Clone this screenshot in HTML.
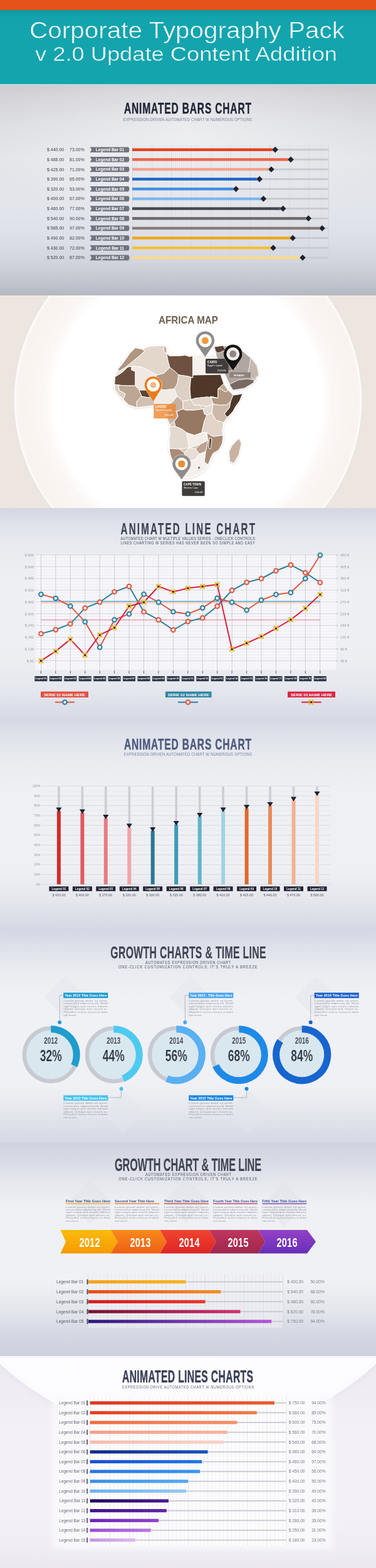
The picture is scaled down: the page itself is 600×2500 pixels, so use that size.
<!DOCTYPE html>
<html><head><meta charset="utf-8"><title>Corporate Typography Pack v 2.0</title>
<style>
html,body{margin:0;padding:0;background:#e9eaee;}
body{width:600px;height:2500px;overflow:hidden;position:relative;font-family:"Liberation Sans",Arial,sans-serif;}
.sec{position:absolute;left:0;width:600px;overflow:hidden;}
svg{position:absolute;left:0;top:0;display:block;}
svg text{font-family:"Liberation Sans",Arial,sans-serif;}
</style></head><body>

<div class="sec" style="top:0;height:134px;background:#13a4ad;">
<div style="position:absolute;left:0;top:0;width:600px;height:16px;background:#e5531a;"></div>
<div style="position:absolute;left:0;top:16px;width:600px;height:12px;background:linear-gradient(#0f98a1,#13a4ad);"></div>
<svg width="600" height="134" viewBox="0 0 600 134">
<text x="47.0" y="61.0" font-size="37" fill="#ffffff" textLength="503.0" lengthAdjust="spacingAndGlyphs" stroke="#13a4ad" stroke-width="0.6">Corporate Typography Pack</text>
<text x="56.0" y="97.0" font-size="31" fill="#ffffff" textLength="482.0" lengthAdjust="spacingAndGlyphs" stroke="#13a4ad" stroke-width="0.5">v 2.0 Update Content Addition</text>
</svg></div>
<div class="sec" style="top:134px;height:337px;background:radial-gradient(ellipse 320px 150px at 50% 25%,rgba(255,255,255,0.45),rgba(255,255,255,0) 100%),linear-gradient(180deg,#c9c9ce 0px,#d1d1d6 15px,#dcdde1 60px,#e4e6ea 120px,#e3e5ec 200px,#dcdfe7 250px,#cfd2da 290px,#bfc3cc 320px,#b4b8c2 337px);">
<div style="position:absolute;left:0;top:0;width:600px;height:3px;background:linear-gradient(#c4d6dc,#cfd3d6);"></div>
<svg width="600" height="337" viewBox="0 134 600 337">
<defs><pattern id="g2" x="211" y="0" width="3.125" height="4" patternUnits="userSpaceOnUse"><rect x="0" y="0" width="0.7" height="4" fill="#dcdde2"/></pattern></defs>
<rect x="211" y="231" width="313" height="188" fill="url(#g2)"/>
<rect x="211.0" y="231" width="0.8" height="188" fill="#d3d4da"/>
<rect x="242.3" y="231" width="0.8" height="188" fill="#d3d4da"/>
<rect x="273.6" y="231" width="0.8" height="188" fill="#d3d4da"/>
<rect x="304.9" y="231" width="0.8" height="188" fill="#d3d4da"/>
<rect x="336.2" y="231" width="0.8" height="188" fill="#d3d4da"/>
<rect x="367.5" y="231" width="0.8" height="188" fill="#d3d4da"/>
<rect x="398.8" y="231" width="0.8" height="188" fill="#d3d4da"/>
<rect x="430.1" y="231" width="0.8" height="188" fill="#d3d4da"/>
<rect x="461.4" y="231" width="0.8" height="188" fill="#d3d4da"/>
<rect x="492.7" y="231" width="0.8" height="188" fill="#d3d4da"/>
<rect x="524.0" y="231" width="0.8" height="188" fill="#d3d4da"/>
<g transform="translate(198.00,181.00) scale(0.63,1)"><text x="0" y="0" font-size="24.71" font-weight="bold" fill="#1f2536" stroke="#1f2536" stroke-width="0.45" textLength="322.2" lengthAdjust="spacing">ANIMATED BARS CHART</text></g>
<g transform="translate(196.50,192.80) scale(0.86,1)"><text x="0" y="0" font-size="6.98" fill="#7b8098" textLength="239.0" lengthAdjust="spacing">EXPRESSION DRIVEN AUTOMATED CHART W NUMEROUS OPTIONS</text></g>
<rect x="211" y="237.2" width="313" height="3" fill="#c9cad1"/>
<text x="75.0" y="241.2" font-size="7" fill="#3b3d45">$ 440.00</text>
<text x="111.0" y="241.2" font-size="7" fill="#3b3d45">73.00%</text>
<path d="M143.5 234.4 H205 Q208 238.7 205 243.0 H143.5 L146.3 238.7 Z" fill="#70747f"/>
<text x="175.5" y="241.1" font-size="6.6" fill="#ffffff" font-weight="bold" text-anchor="middle">Legend Bar 01</text>
<rect x="211" y="236.5" width="228.1" height="4.4" fill="#e0401e"/>
<rect x="435.5" y="235.1" width="7.2" height="7.2" fill="#1e2230" stroke="#ffffff" stroke-opacity="0.5" stroke-width="0.8" transform="rotate(45 439.1 238.7)"/>
<rect x="211" y="252.8" width="313" height="3" fill="#c9cad1"/>
<text x="75.0" y="256.9" font-size="7" fill="#3b3d45">$ 485.00</text>
<text x="111.0" y="256.9" font-size="7" fill="#3b3d45">81.00%</text>
<path d="M143.5 250.0 H205 Q208 254.3 205 258.6 H143.5 L146.3 254.3 Z" fill="#70747f"/>
<text x="175.5" y="256.8" font-size="6.6" fill="#ffffff" font-weight="bold" text-anchor="middle">Legend Bar 02</text>
<rect x="211" y="252.2" width="253.1" height="4.4" fill="#ee6448"/>
<rect x="460.5" y="250.8" width="7.2" height="7.2" fill="#1e2230" stroke="#ffffff" stroke-opacity="0.5" stroke-width="0.8" transform="rotate(45 464.1 254.3)"/>
<rect x="211" y="268.5" width="313" height="3" fill="#c9cad1"/>
<text x="75.0" y="272.5" font-size="7" fill="#3b3d45">$ 425.00</text>
<text x="111.0" y="272.5" font-size="7" fill="#3b3d45">71.00%</text>
<path d="M143.5 265.7 H205 Q208 270.0 205 274.3 H143.5 L146.3 270.0 Z" fill="#70747f"/>
<text x="175.5" y="272.4" font-size="6.6" fill="#ffffff" font-weight="bold" text-anchor="middle">Legend Bar 03</text>
<rect x="211" y="267.8" width="221.9" height="4.4" fill="#f4a08c"/>
<rect x="429.3" y="266.4" width="7.2" height="7.2" fill="#1e2230" stroke="#ffffff" stroke-opacity="0.5" stroke-width="0.8" transform="rotate(45 432.9 270.0)"/>
<rect x="211" y="284.1" width="313" height="3" fill="#c9cad1"/>
<text x="75.0" y="288.1" font-size="7" fill="#3b3d45">$ 390.00</text>
<text x="111.0" y="288.1" font-size="7" fill="#3b3d45">65.00%</text>
<path d="M143.5 281.3 H205 Q208 285.6 205 289.9 H143.5 L146.3 285.6 Z" fill="#70747f"/>
<text x="175.5" y="288.0" font-size="6.6" fill="#ffffff" font-weight="bold" text-anchor="middle">Legend Bar 04</text>
<rect x="211" y="283.4" width="203.1" height="4.4" fill="#1f64c6"/>
<rect x="410.5" y="282.0" width="7.2" height="7.2" fill="#1e2230" stroke="#ffffff" stroke-opacity="0.5" stroke-width="0.8" transform="rotate(45 414.1 285.6)"/>
<rect x="211" y="299.8" width="313" height="3" fill="#c9cad1"/>
<text x="75.0" y="303.8" font-size="7" fill="#3b3d45">$ 320.00</text>
<text x="111.0" y="303.8" font-size="7" fill="#3b3d45">53.00%</text>
<path d="M143.5 297.0 H205 Q208 301.3 205 305.6 H143.5 L146.3 301.3 Z" fill="#70747f"/>
<text x="175.5" y="303.7" font-size="6.6" fill="#ffffff" font-weight="bold" text-anchor="middle">Legend Bar 05</text>
<rect x="211" y="299.1" width="165.6" height="4.4" fill="#3d8fe2"/>
<rect x="373.0" y="297.7" width="7.2" height="7.2" fill="#1e2230" stroke="#ffffff" stroke-opacity="0.5" stroke-width="0.8" transform="rotate(45 376.6 301.3)"/>
<rect x="211" y="315.4" width="313" height="3" fill="#c9cad1"/>
<text x="75.0" y="319.4" font-size="7" fill="#3b3d45">$ 400.00</text>
<text x="111.0" y="319.4" font-size="7" fill="#3b3d45">67.00%</text>
<path d="M143.5 312.6 H205 Q208 316.9 205 321.2 H143.5 L146.3 316.9 Z" fill="#70747f"/>
<text x="175.5" y="319.3" font-size="6.6" fill="#ffffff" font-weight="bold" text-anchor="middle">Legend Bar 06</text>
<rect x="211" y="314.8" width="209.4" height="4.4" fill="#7cb7ec"/>
<rect x="416.8" y="313.3" width="7.2" height="7.2" fill="#1e2230" stroke="#ffffff" stroke-opacity="0.5" stroke-width="0.8" transform="rotate(45 420.4 316.9)"/>
<rect x="211" y="331.1" width="313" height="3" fill="#c9cad1"/>
<text x="75.0" y="335.1" font-size="7" fill="#3b3d45">$ 460.00</text>
<text x="111.0" y="335.1" font-size="7" fill="#3b3d45">77.00%</text>
<path d="M143.5 328.3 H205 Q208 332.6 205 336.9 H143.5 L146.3 332.6 Z" fill="#70747f"/>
<text x="175.5" y="335.0" font-size="6.6" fill="#ffffff" font-weight="bold" text-anchor="middle">Legend Bar 07</text>
<rect x="211" y="330.4" width="240.6" height="4.4" fill="#47474c"/>
<rect x="448.0" y="329.0" width="7.2" height="7.2" fill="#1e2230" stroke="#ffffff" stroke-opacity="0.5" stroke-width="0.8" transform="rotate(45 451.6 332.6)"/>
<rect x="211" y="346.8" width="313" height="3" fill="#c9cad1"/>
<text x="75.0" y="350.8" font-size="7" fill="#3b3d45">$ 540.00</text>
<text x="111.0" y="350.8" font-size="7" fill="#3b3d45">90.00%</text>
<path d="M143.5 343.9 H205 Q208 348.2 205 352.6 H143.5 L146.3 348.2 Z" fill="#70747f"/>
<text x="175.5" y="350.6" font-size="6.6" fill="#ffffff" font-weight="bold" text-anchor="middle">Legend Bar 08</text>
<rect x="211" y="346.1" width="281.2" height="4.4" fill="#6f6867"/>
<rect x="488.6" y="344.6" width="7.2" height="7.2" fill="#1e2230" stroke="#ffffff" stroke-opacity="0.5" stroke-width="0.8" transform="rotate(45 492.2 348.2)"/>
<rect x="211" y="362.4" width="313" height="3" fill="#c9cad1"/>
<text x="75.0" y="366.4" font-size="7" fill="#3b3d45">$ 585.00</text>
<text x="111.0" y="366.4" font-size="7" fill="#3b3d45">97.00%</text>
<path d="M143.5 359.6 H205 Q208 363.9 205 368.2 H143.5 L146.3 363.9 Z" fill="#70747f"/>
<text x="175.5" y="366.3" font-size="6.6" fill="#ffffff" font-weight="bold" text-anchor="middle">Legend Bar 09</text>
<rect x="211" y="361.7" width="303.1" height="4.4" fill="#877b76"/>
<rect x="510.5" y="360.3" width="7.2" height="7.2" fill="#1e2230" stroke="#ffffff" stroke-opacity="0.5" stroke-width="0.8" transform="rotate(45 514.1 363.9)"/>
<rect x="211" y="378.0" width="313" height="3" fill="#c9cad1"/>
<text x="75.0" y="382.0" font-size="7" fill="#3b3d45">$ 490.00</text>
<text x="111.0" y="382.0" font-size="7" fill="#3b3d45">82.00%</text>
<path d="M143.5 375.2 H205 Q208 379.5 205 383.8 H143.5 L146.3 379.5 Z" fill="#70747f"/>
<text x="175.5" y="381.9" font-size="6.6" fill="#ffffff" font-weight="bold" text-anchor="middle">Legend Bar 10</text>
<rect x="211" y="377.3" width="256.2" height="4.4" fill="#efa814"/>
<rect x="463.6" y="375.9" width="7.2" height="7.2" fill="#1e2230" stroke="#ffffff" stroke-opacity="0.5" stroke-width="0.8" transform="rotate(45 467.2 379.5)"/>
<rect x="211" y="393.7" width="313" height="3" fill="#c9cad1"/>
<text x="75.0" y="397.7" font-size="7" fill="#3b3d45">$ 430.00</text>
<text x="111.0" y="397.7" font-size="7" fill="#3b3d45">72.00%</text>
<path d="M143.5 390.9 H205 Q208 395.2 205 399.5 H143.5 L146.3 395.2 Z" fill="#70747f"/>
<text x="175.5" y="397.6" font-size="6.6" fill="#ffffff" font-weight="bold" text-anchor="middle">Legend Bar 11</text>
<rect x="211" y="393.0" width="225.0" height="4.4" fill="#f4c034"/>
<rect x="432.4" y="391.6" width="7.2" height="7.2" fill="#1e2230" stroke="#ffffff" stroke-opacity="0.5" stroke-width="0.8" transform="rotate(45 436.0 395.2)"/>
<rect x="211" y="409.4" width="313" height="3" fill="#c9cad1"/>
<text x="75.0" y="413.4" font-size="7" fill="#3b3d45">$ 520.00</text>
<text x="111.0" y="413.4" font-size="7" fill="#3b3d45">87.00%</text>
<path d="M143.5 406.6 H205 Q208 410.9 205 415.2 H143.5 L146.3 410.9 Z" fill="#70747f"/>
<text x="175.5" y="413.2" font-size="6.6" fill="#ffffff" font-weight="bold" text-anchor="middle">Legend Bar 12</text>
<rect x="211" y="408.7" width="271.9" height="4.4" fill="#f8da8c"/>
<rect x="479.3" y="407.2" width="7.2" height="7.2" fill="#1e2230" stroke="#ffffff" stroke-opacity="0.5" stroke-width="0.8" transform="rotate(45 482.9 410.9)"/>
</svg></div>
<div class="sec" style="top:471px;height:339px;background:#ede5e0;">
<svg width="600" height="339" viewBox="0 471 600 339">
<defs>
<radialGradient id="afw" cx="300" cy="638" r="277" gradientUnits="userSpaceOnUse">
<stop offset="0" stop-color="#ffffff"/><stop offset="0.77" stop-color="#ffffff"/><stop offset="0.83" stop-color="#fcf7f4"/><stop offset="0.975" stop-color="#f9f2ee"/><stop offset="1" stop-color="#fdf9f7"/>
</radialGradient>
<filter id="msh" x="-10%" y="-10%" width="120%" height="120%"><feDropShadow dx="0" dy="0.6" stdDeviation="1" flood-color="#8a7060" flood-opacity="0.35"/></filter>
<clipPath id="afc"><path d="M216,554.5 L227,556.7 L237.8,552.3 L249,551.5 L259.5,551.2 L263,551 L266,556 L266,563 L270,567.5 L283,567.5 L290,567 L296,566.4 L302,568.5 L307.8,567.5 L320,566 L333,566.5 L342,566 L345.7,567.5 L350,583 L352,597 L357,612 L364,622 L372,630 L380,629 L387,627.5 L382.5,639 L376,648 L371.7,656 L362.7,665.3 L357.3,674.7 L354.7,685.3 L357.3,696 L354.7,706.7 L349.3,717.3 L340,722.7 L336,730.7 L332,741.3 L325.3,750.7 L314.7,757.3 L304,761.3 L290.7,761.3 L282.7,754.7 L277.3,741.3 L273.3,728 L269.3,717.3 L269.3,706.7 L272,693.3 L270.7,677.3 L266.7,666.7 L268,656 L262,650 L246.5,646.6 L235.7,647.7 L218.3,649.8 L205.3,645.5 L196.7,636.8 L188,628 L183.7,621.7 L182.6,613 L183.7,600 L188,589 L196.7,578.3 L207.5,563 Z"/></clipPath>
</defs>
<circle cx="300" cy="638" r="277" fill="url(#afw)"/>
<circle cx="300" cy="638" r="276.2" fill="none" stroke="#ffffff" stroke-width="1.2" stroke-opacity="0.9"/>
<text x="253.0" y="516.0" font-size="16.5" fill="#6f5e52" font-weight="bold" textLength="95.0" lengthAdjust="spacingAndGlyphs">AFRICA MAP</text>
<g filter="url(#msh)">
<path d="M216,554.5 L227,556.7 L237.8,552.3 L249,551.5 L259.5,551.2 L263,551 L266,556 L266,563 L270,567.5 L283,567.5 L290,567 L296,566.4 L302,568.5 L307.8,567.5 L320,566 L333,566.5 L342,566 L345.7,567.5 L350,583 L352,597 L357,612 L364,622 L372,630 L380,629 L387,627.5 L382.5,639 L376,648 L371.7,656 L362.7,665.3 L357.3,674.7 L354.7,685.3 L357.3,696 L354.7,706.7 L349.3,717.3 L340,722.7 L336,730.7 L332,741.3 L325.3,750.7 L314.7,757.3 L304,761.3 L290.7,761.3 L282.7,754.7 L277.3,741.3 L273.3,728 L269.3,717.3 L269.3,706.7 L272,693.3 L270.7,677.3 L266.7,666.7 L268,656 L262,650 L246.5,646.6 L235.7,647.7 L218.3,649.8 L205.3,645.5 L196.7,636.8 L188,628 L183.7,621.7 L182.6,613 L183.7,600 L188,589 L196.7,578.3 L207.5,563 Z" fill="#d9c9bd" stroke="#ffffff" stroke-width="2.2"/>
<path d="M342,553 L356,551 L372,553 L388,560 L400,570 L410,583 L413,598 L405,610 L390,619 L372,622 L366,613 L360,600 L352,583 L345,568 Z" fill="#b1a59f" stroke="#ffffff" stroke-width="1.6"/>
</g>
<g clip-path="url(#afc)" stroke="#ffffff" stroke-width="1">
<path d="M216,554.5 L227,556.7 L231,560 L222,568 L212,576 L200,586 L190,592 L188,589 L196.7,578.3 L207.5,563 Z" fill="#b09580"/>
<path d="M188,589 L190,592 L200,586 L204,585 L196,593 L185,600 L183.7,600 Z" fill="#ece4dc"/>
<path d="M183.7,600 L185,600 L196,593 L204,585 L210,584 L210,590 L216,592 L216,615 L200,615 L189,614 L182.6,613 Z" fill="#6b4f3e"/>
<path d="M227,556.7 L237.8,552.3 L249,551.5 L259.5,551.2 L263,551 L266,556 L266,563 L268,575 L271,586 L262,595 L250,598 L236,590 L225,585 L214,584 L210,584 L204,585 L200,586 L212,576 L222,568 L231,560 Z" fill="#e3d7cc"/>
<path d="M263,551 L266,556 L266,563 L262,562 L261,554 Z" fill="#c4ae9c"/>
<path d="M266,563 L270,567.5 L283,567.5 L290,567 L296,566.4 L302,568.5 L307.8,567.5 L307.8,602 L300,600 L285,597.8 L279,592 L271,586 L268,575 Z" fill="#6e5140"/>
<path d="M307.8,567.5 L320,566 L333,566.5 L342,566 L345.7,567.5 L350,583 L352,597 L307.8,598 Z" fill="#f6f1ec"/>
<path d="M214,584 L225,585 L236,590 L250,598 L247,606 L245,618 L235,622 L222,622 L216,615 L216,592 L210,590 L210,584 Z" fill="#f0e9e2"/>
<path d="M250,598 L262,595 L271,586 L279,592 L285,597.8 L283,612 L278,620 L262,622 L245,618 L247,606 Z" fill="#b39884"/>
<path d="M285,597.8 L300,600 L304.5,602 L303,620 L304.5,637 L292,640 L283,632 L278,620 L283,612 Z" fill="#ddd0c6"/>
<path d="M304.5,602 L307.8,602 L307.8,598 L352,597 L357,612 L348,620 L347.8,634.7 L330,633 L312,635 L304.5,637 L303,620 Z" fill="#4f3828"/>
<path d="M357,612 L364,622 L360,625 L352,620 L348,620 Z" fill="#c0a890"/>
<path d="M348,620 L352,620 L360,625 L364,622 L372,630 L368,640 L362,645.5 L350,646 L340,644 L336,632 L347.8,634.7 Z" fill="#b49884"/>
<path d="M372,630 L380,629 L387,627.5 L382.5,639 L376,648 L371.7,656 L362.7,665.3 L358,660 L366,650 L368,640 Z" fill="#4d3828"/>
<path d="M304.5,637 L312,635 L330,633 L347.8,634.7 L336,632 L340,644 L330,648 L318,646 L310,646 Z" fill="#e2d6cc"/>
<path d="M245,618 L262,622 L278,620 L283,632 L276,640 L268,646 L262,650 L246.5,646.6 L246,632 Z" fill="#f1ebe5"/>
<path d="M222,622 L235,622 L245,618 L246,632 L236,634 L226,632 Z" fill="#5e4434"/>
<path d="M226,632 L236,634 L246,632 L246.5,646.6 L235.7,647.7 L218.3,649.8 L218,640 Z" fill="#d2c0b2"/>
<path d="M189,614 L200,615 L216,615 L222,622 L226,632 L218,640 L218.3,649.8 L205.3,645.5 L196.7,636.8 L200,628 L190,622 Z" fill="#bda693"/>
<path d="M182.6,613 L189,614 L190,622 L200,628 L196.7,636.8 L188,628 L183.7,621.7 Z" fill="#ddd0c4"/>
<path d="M276,640 L283,632 L292,640 L292,652 L282,656 L268,656 L262,650 L268,646 Z" fill="#c6b1a0"/>
<path d="M292,640 L304.5,637 L310,646 L318,646 L324,652 L310,654 L296,654 L292,652 Z" fill="#ddd0c4"/>
<path d="M340,644 L350,646 L362,645.5 L368,640 L366,650 L358,660 L362.7,665.3 L357,674 L344,670 L338,658 Z" fill="#cdb9aa"/>
<path d="M324,652 L330,648 L340,644 L338,658 L330,662 L326,660 Z" fill="#e6dbd2"/>
<path d="M268,656 L282,656 L284,664 L278,672 L270.7,677.3 L266.7,666.7 Z" fill="#c9b6a5"/>
<path d="M282,656 L292,652 L296,654 L310,654 L324,652 L326,660 L330,662 L326,672 L322,690 L310,694 L298,690 L290,684 L280,680 L278,672 L284,664 Z" fill="#977862"/>
<path d="M326,672 L330,662 L338,658 L344,670 L357,674 L354.7,685.3 L356,694 L340,696 L330,690 L322,690 Z" fill="#e2d4c9"/>
<path d="M270,680 L280,680 L290,684 L298,690 L300,702 L302,714 L286,716 L270,715 Z" fill="#e4d9cf"/>
<path d="M298,690 L310,694 L322,690 L330,690 L332,702 L320,708 L302,714 L300,702 Z" fill="#f3ede8"/>
<path d="M330,690 L340,696 L356,694 L354.7,706.7 L349.3,717.3 L340,722.7 L336,730.7 L332,741.3 L326,736 L328,720 L332,702 Z" fill="#a98b74"/>
<path d="M334,698 L338,700 L336,716 L333,714 Z" fill="#5a4030"/>
<path d="M320,708 L332,702 L328,720 L318,724 L312,716 Z" fill="#bba392"/>
<path d="M302,714 L312,716 L318,724 L310,734 L298,734 L294,722 Z" fill="#e8ddd4"/>
<path d="M270,715 L286,716 L294,722 L298,734 L290,736 L282,742 L276,736 L272,726 Z" fill="#a98b75"/>
<path d="M282,742 L290,736 L298,734 L310,734 L318,724 L328,720 L326,736 L332,741.3 L325.3,750.7 L314.7,757.3 L304,761.3 L290.7,761.3 L282.7,754.7 Z" fill="#f5f0eb"/>
<path d="M315,745 L319,743 L320,747 L316,748 Z" fill="#7a6050"/>
</g>
<path d="M342,553 L356,551 L360,558 L348,563 L344,560 Z" fill="#5a4236" stroke="#fff" stroke-width="0.8"/>
<path d="M400,570 L410,583 L413,598 L405,605 L395,598 L398,585 Z" fill="#c4b8b0" stroke="#fff" stroke-width="0.8"/>
<path d="M366,613 L380,606 L395,604 L405,606 L405,610 L390,619 L372,622 Z" fill="#786a62" stroke="#fff" stroke-width="0.8"/><path d="M356,575 L372,570 L380,585 L366,592 L360,588 Z" fill="#8f817a" stroke="#fff" stroke-width="0.6"/>
<path d="M381.3,698.7 L385.3,706.7 L381.3,725.3 L373.3,738.7 L366.7,736 L365.3,720 L370.7,709.3 L377.3,702.7 Z" fill="#c8b3a3" stroke="#ffffff" stroke-width="1.2" filter="url(#msh)"/>
<rect x="328" y="572" width="36.4" height="23.4" rx="1.6" fill="#403c3b"/>
<text x="331.0" y="578.6" font-size="4.8" fill="#fff" font-weight="bold">CAIRO</text>
<text x="331.0" y="584.0" font-size="3.6" fill="#fff">Egypt&#39;s Capital</text>
<text x="361.0" y="591.5" font-size="2.9" fill="#fff" text-anchor="end">15,000,000</text>
<rect x="366" y="593.5" width="34" height="8.5" fill="#8e827d"/>
<text x="373.0" y="599.6" font-size="4.4" fill="#fff" font-weight="bold">RIYADH</text>
<rect x="245.3" y="644" width="35.4" height="23.3" rx="1.2" fill="#ea8a36" fill-opacity="0.82"/>
<text x="248.0" y="650.2" font-size="4.8" fill="#fff" font-weight="bold">LAGOS</text>
<text x="248.0" y="655.4" font-size="3.6" fill="#fff">Nigeria&#39;s Capital</text>
<text x="277.0" y="662.5" font-size="2.9" fill="#fff" text-anchor="end">20,000,000</text>
<rect x="290.4" y="767.3" width="36.3" height="23.4" rx="1.8" fill="#3e3c3b"/>
<text x="293.0" y="773.8" font-size="4.6" fill="#fff" font-weight="bold">CAPE TOWN</text>
<text x="293.0" y="779.2" font-size="3.6" fill="#fff">Western Cape</text>
<text x="323.5" y="785.8" font-size="2.9" fill="#fff" text-anchor="end">4,000,000</text>
<path d="M327.4,569.4 L315.1,551.5 A15,15 0 1 1 339.7,551.5 Z" fill="#8f8b8a" stroke="#ffffff" stroke-opacity="0.6" stroke-width="0.8"/><circle cx="327.4" cy="543.0" r="10.5" fill="#ffffff"/><circle cx="327.4" cy="543.0" r="5.5" fill="#ef9a3c"/>
<path d="M371.7,591.0 L359.2,573.0 A15.2,15.2 0 1 1 384.2,573.0 Z" fill="#121212" stroke="#ffffff" stroke-opacity="0.6" stroke-width="0.8"/><circle cx="371.7" cy="564.3" r="10.5" fill="#f0ebe6"/><circle cx="371.7" cy="564.3" r="5.5" fill="#8f8785"/>
<path d="M244.5,640.7 L232.5,621.4 A14.1,14.1 0 1 1 256.5,621.4 Z" fill="#e87c1e" stroke="#ffffff" stroke-opacity="0.6" stroke-width="0.8"/><circle cx="244.5" cy="614.0" r="10.3" fill="#ffffff"/><circle cx="244.5" cy="614.0" r="5" fill="#f2b88c"/>
<path d="M289.8,764.7 L277.8,748.4 A14.9,14.9 0 1 1 301.8,748.4 Z" fill="#8f8b8a" stroke="#ffffff" stroke-opacity="0.6" stroke-width="0.8"/><circle cx="289.8" cy="739.6" r="10" fill="#ffffff"/><circle cx="289.8" cy="739.6" r="5.7" fill="#ec8d35"/>
</svg></div>
<div class="sec" style="top:810px;height:335px;background:linear-gradient(180deg,#d3d7e3 0px,#dfe2ea 25px,#e9ebf0 60px,#eff0f4 130px,#eeeff3 230px,#e5e7ee 290px,#d7dae5 335px);">
<svg width="600" height="335" viewBox="0 810 600 335">
<g transform="translate(192.50,852.00) scale(0.58,1)"><text x="0" y="0" font-size="26.16" font-weight="bold" fill="#3d4355" stroke="#3d4355" stroke-width="0.2" textLength="369.8" lengthAdjust="spacing">ANIMATED LINE CHART</text></g>
<g transform="translate(192.50,860.60) scale(0.86,1)"><text x="0" y="0" font-size="6.40" fill="#4a4f5c" textLength="249.4" lengthAdjust="spacing">AUTOMATED CHART W MULTIPLE VALUES SERIES - ONECLICK CONTROLS</text></g>
<g transform="translate(192.50,867.60) scale(0.86,1)"><text x="0" y="0" font-size="6.40" fill="#4a4f5c" textLength="249.4" lengthAdjust="spacing">LINES CHARTING W SERIES HAS NEVER BEEN SO SIMPLE AND EASY</text></g>
<rect x="57" y="884" width="479" height="184" fill="#f8f8fb" fill-opacity="0.85"/>
<rect x="57" y="889.1" width="479" height="0.6" fill="#ece6ed"/>
<rect x="57" y="893.8" width="479" height="0.6" fill="#ece6ed"/>
<rect x="57" y="898.5" width="479" height="0.6" fill="#ece6ed"/>
<rect x="57" y="907.9" width="479" height="0.6" fill="#ece6ed"/>
<rect x="57" y="912.6" width="479" height="0.6" fill="#ece6ed"/>
<rect x="57" y="917.3" width="479" height="0.6" fill="#ece6ed"/>
<rect x="57" y="926.7" width="479" height="0.6" fill="#ece6ed"/>
<rect x="57" y="931.3" width="479" height="0.6" fill="#ece6ed"/>
<rect x="57" y="936.0" width="479" height="0.6" fill="#ece6ed"/>
<rect x="57" y="945.4" width="479" height="0.6" fill="#ece6ed"/>
<rect x="57" y="950.1" width="479" height="0.6" fill="#ece6ed"/>
<rect x="57" y="954.8" width="479" height="0.6" fill="#ece6ed"/>
<rect x="57" y="964.2" width="479" height="0.6" fill="#ece6ed"/>
<rect x="57" y="968.9" width="479" height="0.6" fill="#ece6ed"/>
<rect x="57" y="973.6" width="479" height="0.6" fill="#ece6ed"/>
<rect x="57" y="982.9" width="479" height="0.6" fill="#ece6ed"/>
<rect x="57" y="987.6" width="479" height="0.6" fill="#ece6ed"/>
<rect x="57" y="992.3" width="479" height="0.6" fill="#ece6ed"/>
<rect x="57" y="1001.7" width="479" height="0.6" fill="#ece6ed"/>
<rect x="57" y="1006.4" width="479" height="0.6" fill="#ece6ed"/>
<rect x="57" y="1011.1" width="479" height="0.6" fill="#ece6ed"/>
<rect x="57" y="1020.5" width="479" height="0.6" fill="#ece6ed"/>
<rect x="57" y="1025.2" width="479" height="0.6" fill="#ece6ed"/>
<rect x="57" y="1029.8" width="479" height="0.6" fill="#ece6ed"/>
<rect x="57" y="1039.2" width="479" height="0.6" fill="#ece6ed"/>
<rect x="57" y="1043.9" width="479" height="0.6" fill="#ece6ed"/>
<rect x="57" y="1048.6" width="479" height="0.6" fill="#ece6ed"/>
<rect x="69.8" y="884.8" width="0.5" height="182" fill="#eeeef2"/>
<rect x="74.5" y="884.8" width="0.5" height="182" fill="#eeeef2"/>
<rect x="79.2" y="884.8" width="0.5" height="182" fill="#eeeef2"/>
<rect x="83.9" y="884.8" width="0.5" height="182" fill="#eeeef2"/>
<rect x="93.2" y="884.8" width="0.5" height="182" fill="#eeeef2"/>
<rect x="97.9" y="884.8" width="0.5" height="182" fill="#eeeef2"/>
<rect x="102.6" y="884.8" width="0.5" height="182" fill="#eeeef2"/>
<rect x="107.3" y="884.8" width="0.5" height="182" fill="#eeeef2"/>
<rect x="116.7" y="884.8" width="0.5" height="182" fill="#eeeef2"/>
<rect x="121.4" y="884.8" width="0.5" height="182" fill="#eeeef2"/>
<rect x="126.0" y="884.8" width="0.5" height="182" fill="#eeeef2"/>
<rect x="130.7" y="884.8" width="0.5" height="182" fill="#eeeef2"/>
<rect x="140.1" y="884.8" width="0.5" height="182" fill="#eeeef2"/>
<rect x="144.8" y="884.8" width="0.5" height="182" fill="#eeeef2"/>
<rect x="149.5" y="884.8" width="0.5" height="182" fill="#eeeef2"/>
<rect x="154.2" y="884.8" width="0.5" height="182" fill="#eeeef2"/>
<rect x="163.5" y="884.8" width="0.5" height="182" fill="#eeeef2"/>
<rect x="168.2" y="884.8" width="0.5" height="182" fill="#eeeef2"/>
<rect x="172.9" y="884.8" width="0.5" height="182" fill="#eeeef2"/>
<rect x="177.6" y="884.8" width="0.5" height="182" fill="#eeeef2"/>
<rect x="187.0" y="884.8" width="0.5" height="182" fill="#eeeef2"/>
<rect x="191.7" y="884.8" width="0.5" height="182" fill="#eeeef2"/>
<rect x="196.4" y="884.8" width="0.5" height="182" fill="#eeeef2"/>
<rect x="201.1" y="884.8" width="0.5" height="182" fill="#eeeef2"/>
<rect x="210.4" y="884.8" width="0.5" height="182" fill="#eeeef2"/>
<rect x="215.1" y="884.8" width="0.5" height="182" fill="#eeeef2"/>
<rect x="219.8" y="884.8" width="0.5" height="182" fill="#eeeef2"/>
<rect x="224.5" y="884.8" width="0.5" height="182" fill="#eeeef2"/>
<rect x="233.9" y="884.8" width="0.5" height="182" fill="#eeeef2"/>
<rect x="238.6" y="884.8" width="0.5" height="182" fill="#eeeef2"/>
<rect x="243.2" y="884.8" width="0.5" height="182" fill="#eeeef2"/>
<rect x="247.9" y="884.8" width="0.5" height="182" fill="#eeeef2"/>
<rect x="257.3" y="884.8" width="0.5" height="182" fill="#eeeef2"/>
<rect x="262.0" y="884.8" width="0.5" height="182" fill="#eeeef2"/>
<rect x="266.7" y="884.8" width="0.5" height="182" fill="#eeeef2"/>
<rect x="271.4" y="884.8" width="0.5" height="182" fill="#eeeef2"/>
<rect x="280.7" y="884.8" width="0.5" height="182" fill="#eeeef2"/>
<rect x="285.4" y="884.8" width="0.5" height="182" fill="#eeeef2"/>
<rect x="290.1" y="884.8" width="0.5" height="182" fill="#eeeef2"/>
<rect x="294.8" y="884.8" width="0.5" height="182" fill="#eeeef2"/>
<rect x="304.2" y="884.8" width="0.5" height="182" fill="#eeeef2"/>
<rect x="308.9" y="884.8" width="0.5" height="182" fill="#eeeef2"/>
<rect x="313.6" y="884.8" width="0.5" height="182" fill="#eeeef2"/>
<rect x="318.3" y="884.8" width="0.5" height="182" fill="#eeeef2"/>
<rect x="327.6" y="884.8" width="0.5" height="182" fill="#eeeef2"/>
<rect x="332.3" y="884.8" width="0.5" height="182" fill="#eeeef2"/>
<rect x="337.0" y="884.8" width="0.5" height="182" fill="#eeeef2"/>
<rect x="341.7" y="884.8" width="0.5" height="182" fill="#eeeef2"/>
<rect x="351.1" y="884.8" width="0.5" height="182" fill="#eeeef2"/>
<rect x="355.8" y="884.8" width="0.5" height="182" fill="#eeeef2"/>
<rect x="360.4" y="884.8" width="0.5" height="182" fill="#eeeef2"/>
<rect x="365.1" y="884.8" width="0.5" height="182" fill="#eeeef2"/>
<rect x="374.5" y="884.8" width="0.5" height="182" fill="#eeeef2"/>
<rect x="379.2" y="884.8" width="0.5" height="182" fill="#eeeef2"/>
<rect x="383.9" y="884.8" width="0.5" height="182" fill="#eeeef2"/>
<rect x="388.6" y="884.8" width="0.5" height="182" fill="#eeeef2"/>
<rect x="397.9" y="884.8" width="0.5" height="182" fill="#eeeef2"/>
<rect x="402.6" y="884.8" width="0.5" height="182" fill="#eeeef2"/>
<rect x="407.3" y="884.8" width="0.5" height="182" fill="#eeeef2"/>
<rect x="412.0" y="884.8" width="0.5" height="182" fill="#eeeef2"/>
<rect x="421.4" y="884.8" width="0.5" height="182" fill="#eeeef2"/>
<rect x="426.1" y="884.8" width="0.5" height="182" fill="#eeeef2"/>
<rect x="430.8" y="884.8" width="0.5" height="182" fill="#eeeef2"/>
<rect x="435.5" y="884.8" width="0.5" height="182" fill="#eeeef2"/>
<rect x="444.8" y="884.8" width="0.5" height="182" fill="#eeeef2"/>
<rect x="449.5" y="884.8" width="0.5" height="182" fill="#eeeef2"/>
<rect x="454.2" y="884.8" width="0.5" height="182" fill="#eeeef2"/>
<rect x="458.9" y="884.8" width="0.5" height="182" fill="#eeeef2"/>
<rect x="468.3" y="884.8" width="0.5" height="182" fill="#eeeef2"/>
<rect x="473.0" y="884.8" width="0.5" height="182" fill="#eeeef2"/>
<rect x="477.6" y="884.8" width="0.5" height="182" fill="#eeeef2"/>
<rect x="482.3" y="884.8" width="0.5" height="182" fill="#eeeef2"/>
<rect x="491.7" y="884.8" width="0.5" height="182" fill="#eeeef2"/>
<rect x="496.4" y="884.8" width="0.5" height="182" fill="#eeeef2"/>
<rect x="501.1" y="884.8" width="0.5" height="182" fill="#eeeef2"/>
<rect x="505.8" y="884.8" width="0.5" height="182" fill="#eeeef2"/>
<rect x="56.5" y="884.3" width="480" height="1" fill="#d3d4db"/>
<text x="54.0" y="886.8" font-size="5.8" fill="#9a9da8" text-anchor="end">$ 600</text>
<rect x="537" y="884.4" width="2.5" height="0.8" fill="#9a9ca6"/>
<text x="543.0" y="886.8" font-size="5.8" fill="#9a9da8">450 €</text>
<rect x="56.5" y="903.0" width="480" height="1" fill="#d3d4db"/>
<text x="54.0" y="905.5" font-size="5.8" fill="#9a9da8" text-anchor="end">$ 540</text>
<rect x="537" y="903.1" width="2.5" height="0.8" fill="#9a9ca6"/>
<text x="543.0" y="905.5" font-size="5.8" fill="#9a9da8">405 €</text>
<rect x="56.5" y="921.8" width="480" height="1" fill="#d3d4db"/>
<text x="54.0" y="924.3" font-size="5.8" fill="#9a9da8" text-anchor="end">$ 480</text>
<rect x="537" y="921.9" width="2.5" height="0.8" fill="#9a9ca6"/>
<text x="543.0" y="924.3" font-size="5.8" fill="#9a9da8">360 €</text>
<rect x="56.5" y="940.5" width="480" height="1" fill="#d3d4db"/>
<text x="54.0" y="943.0" font-size="5.8" fill="#9a9da8" text-anchor="end">$ 420</text>
<rect x="537" y="940.6" width="2.5" height="0.8" fill="#9a9ca6"/>
<text x="543.0" y="943.0" font-size="5.8" fill="#9a9da8">315 €</text>
<rect x="56.5" y="959.3" width="480" height="1" fill="#d3d4db"/>
<text x="54.0" y="961.8" font-size="5.8" fill="#9a9da8" text-anchor="end">$ 360</text>
<rect x="537" y="959.4" width="2.5" height="0.8" fill="#9a9ca6"/>
<text x="543.0" y="961.8" font-size="5.8" fill="#9a9da8">270 €</text>
<rect x="56.5" y="978.1" width="480" height="1" fill="#d3d4db"/>
<text x="54.0" y="980.6" font-size="5.8" fill="#9a9da8" text-anchor="end">$ 300</text>
<rect x="537" y="978.2" width="2.5" height="0.8" fill="#9a9ca6"/>
<text x="543.0" y="980.6" font-size="5.8" fill="#9a9da8">225 €</text>
<rect x="56.5" y="996.8" width="480" height="1" fill="#d3d4db"/>
<text x="54.0" y="999.3" font-size="5.8" fill="#9a9da8" text-anchor="end">$ 240</text>
<rect x="537" y="996.9" width="2.5" height="0.8" fill="#9a9ca6"/>
<text x="543.0" y="999.3" font-size="5.8" fill="#9a9da8">180 €</text>
<rect x="56.5" y="1015.6" width="480" height="1" fill="#d3d4db"/>
<text x="54.0" y="1018.1" font-size="5.8" fill="#9a9da8" text-anchor="end">$ 180</text>
<rect x="537" y="1015.7" width="2.5" height="0.8" fill="#9a9ca6"/>
<text x="543.0" y="1018.1" font-size="5.8" fill="#9a9da8">135 €</text>
<rect x="56.5" y="1034.3" width="480" height="1" fill="#d3d4db"/>
<text x="54.0" y="1036.8" font-size="5.8" fill="#9a9da8" text-anchor="end">$ 120</text>
<rect x="537" y="1034.4" width="2.5" height="0.8" fill="#9a9ca6"/>
<text x="543.0" y="1036.8" font-size="5.8" fill="#9a9da8">90 €</text>
<rect x="56.5" y="1053.1" width="480" height="1" fill="#d3d4db"/>
<text x="54.0" y="1055.6" font-size="5.8" fill="#9a9da8" text-anchor="end">$ 60</text>
<rect x="537" y="1053.2" width="2.5" height="0.8" fill="#9a9ca6"/>
<text x="543.0" y="1055.6" font-size="5.8" fill="#9a9da8">45 €</text>
<rect x="65.0" y="884.8" width="0.9" height="184" fill="#c6c7cf"/>
<rect x="64.9" y="1069.5" width="1" height="4.5" fill="#5a5e6a"/>
<rect x="88.4" y="884.8" width="0.9" height="184" fill="#c6c7cf"/>
<rect x="88.3" y="1069.5" width="1" height="4.5" fill="#5a5e6a"/>
<rect x="111.8" y="884.8" width="0.9" height="184" fill="#c6c7cf"/>
<rect x="111.8" y="1069.5" width="1" height="4.5" fill="#5a5e6a"/>
<rect x="135.3" y="884.8" width="0.9" height="184" fill="#c6c7cf"/>
<rect x="135.2" y="1069.5" width="1" height="4.5" fill="#5a5e6a"/>
<rect x="158.7" y="884.8" width="0.9" height="184" fill="#c6c7cf"/>
<rect x="158.7" y="1069.5" width="1" height="4.5" fill="#5a5e6a"/>
<rect x="182.2" y="884.8" width="0.9" height="184" fill="#c6c7cf"/>
<rect x="182.1" y="1069.5" width="1" height="4.5" fill="#5a5e6a"/>
<rect x="205.6" y="884.8" width="0.9" height="184" fill="#c6c7cf"/>
<rect x="205.5" y="1069.5" width="1" height="4.5" fill="#5a5e6a"/>
<rect x="229.0" y="884.8" width="0.9" height="184" fill="#c6c7cf"/>
<rect x="229.0" y="1069.5" width="1" height="4.5" fill="#5a5e6a"/>
<rect x="252.5" y="884.8" width="0.9" height="184" fill="#c6c7cf"/>
<rect x="252.4" y="1069.5" width="1" height="4.5" fill="#5a5e6a"/>
<rect x="275.9" y="884.8" width="0.9" height="184" fill="#c6c7cf"/>
<rect x="275.9" y="1069.5" width="1" height="4.5" fill="#5a5e6a"/>
<rect x="299.4" y="884.8" width="0.9" height="184" fill="#c6c7cf"/>
<rect x="299.3" y="1069.5" width="1" height="4.5" fill="#5a5e6a"/>
<rect x="322.8" y="884.8" width="0.9" height="184" fill="#c6c7cf"/>
<rect x="322.7" y="1069.5" width="1" height="4.5" fill="#5a5e6a"/>
<rect x="346.2" y="884.8" width="0.9" height="184" fill="#c6c7cf"/>
<rect x="346.2" y="1069.5" width="1" height="4.5" fill="#5a5e6a"/>
<rect x="369.7" y="884.8" width="0.9" height="184" fill="#c6c7cf"/>
<rect x="369.6" y="1069.5" width="1" height="4.5" fill="#5a5e6a"/>
<rect x="393.1" y="884.8" width="0.9" height="184" fill="#c6c7cf"/>
<rect x="393.1" y="1069.5" width="1" height="4.5" fill="#5a5e6a"/>
<rect x="416.6" y="884.8" width="0.9" height="184" fill="#c6c7cf"/>
<rect x="416.5" y="1069.5" width="1" height="4.5" fill="#5a5e6a"/>
<rect x="440.0" y="884.8" width="0.9" height="184" fill="#c6c7cf"/>
<rect x="439.9" y="1069.5" width="1" height="4.5" fill="#5a5e6a"/>
<rect x="463.4" y="884.8" width="0.9" height="184" fill="#c6c7cf"/>
<rect x="463.4" y="1069.5" width="1" height="4.5" fill="#5a5e6a"/>
<rect x="486.9" y="884.8" width="0.9" height="184" fill="#c6c7cf"/>
<rect x="486.8" y="1069.5" width="1" height="4.5" fill="#5a5e6a"/>
<rect x="510.3" y="884.8" width="0.9" height="184" fill="#c6c7cf"/>
<rect x="510.3" y="1069.5" width="1" height="4.5" fill="#5a5e6a"/>
<rect x="65" y="958" width="446" height="1.3" fill="#5aa6c6"/>
<rect x="65" y="960.6" width="446" height="0.9" fill="#f0a596"/>
<rect x="65" y="987.9" width="446" height="1" fill="#e37f86"/>
<polyline points="65.4,1010.4 88.8,1004.0 112.3,994.6 135.7,969.4 159.2,960.0 182.6,943.6 206.0,935.0 229.5,975.4 252.9,988.2 276.4,1004.3 299.8,991.0 323.2,985.2 346.7,966.5 370.1,941.3 393.6,928.5 417.0,922.5 440.4,910.0 463.9,900.7 487.3,913.2 510.8,928.7" fill="none" stroke="#2a809f" stroke-width="2" stroke-linejoin="round"/>
<polyline points="65.4,947.6 88.8,954.0 112.3,966.4 135.7,991.4 159.2,1032.0 182.6,988.2 206.0,978.9 229.5,947.4 252.9,960.2 276.4,975.4 299.8,978.9 323.2,969.3 346.7,953.7 370.1,960.2 393.6,972.8 417.0,956.7 440.4,947.9 463.9,944.7 487.3,922.5 510.8,885.2" fill="none" stroke="#e0573f" stroke-width="2" stroke-linejoin="round"/>
<polyline points="65.4,1053.6 88.8,1038.4 112.3,1019.4 135.7,1044.4 159.2,1012.4 182.6,1000.8 206.0,966.5 229.5,960.2 252.9,935.0 276.4,943.6 299.8,937.8 323.2,935.0 346.7,932.0 370.1,1034.9 393.6,1025.5 417.0,1014.8 440.4,1002.0 463.9,988.1 487.3,970.0 510.8,947.9" fill="none" stroke="#d8203f" stroke-width="2" stroke-linejoin="round"/>
<circle cx="65.4" cy="1010.4" r="5.2" fill="#e0573f" fill-opacity="0.18"/><circle cx="65.4" cy="1010.4" r="3.2" fill="#ffffff" stroke="#e0573f" stroke-width="2"/>
<circle cx="65.4" cy="947.6" r="5.2" fill="#2a809f" fill-opacity="0.18"/><circle cx="65.4" cy="947.6" r="3.2" fill="#ffffff" stroke="#2a809f" stroke-width="2"/>
<circle cx="65.4" cy="1053.6" r="4.6" fill="#f2c84a" fill-opacity="0.35"/><path d="M61.8,1050.0 L69.0,1057.2 M61.8,1057.2 L69.0,1050.0" stroke="#e9b830" stroke-width="2.2"/><circle cx="65.4" cy="1053.6" r="1.5" fill="#1a1a1a"/>
<circle cx="88.8" cy="1004.0" r="5.2" fill="#e0573f" fill-opacity="0.18"/><circle cx="88.8" cy="1004.0" r="3.2" fill="#ffffff" stroke="#e0573f" stroke-width="2"/>
<circle cx="88.8" cy="954.0" r="5.2" fill="#2a809f" fill-opacity="0.18"/><circle cx="88.8" cy="954.0" r="3.2" fill="#ffffff" stroke="#2a809f" stroke-width="2"/>
<circle cx="88.8" cy="1038.4" r="4.6" fill="#f2c84a" fill-opacity="0.35"/><path d="M85.2,1034.8 L92.4,1042.0 M85.2,1042.0 L92.4,1034.8" stroke="#e9b830" stroke-width="2.2"/><circle cx="88.8" cy="1038.4" r="1.5" fill="#1a1a1a"/>
<circle cx="112.3" cy="994.6" r="5.2" fill="#e0573f" fill-opacity="0.18"/><circle cx="112.3" cy="994.6" r="3.2" fill="#ffffff" stroke="#e0573f" stroke-width="2"/>
<circle cx="112.3" cy="966.4" r="5.2" fill="#2a809f" fill-opacity="0.18"/><circle cx="112.3" cy="966.4" r="3.2" fill="#ffffff" stroke="#2a809f" stroke-width="2"/>
<circle cx="112.3" cy="1019.4" r="4.6" fill="#f2c84a" fill-opacity="0.35"/><path d="M108.7,1015.8 L115.9,1023.0 M108.7,1023.0 L115.9,1015.8" stroke="#e9b830" stroke-width="2.2"/><circle cx="112.3" cy="1019.4" r="1.5" fill="#1a1a1a"/>
<circle cx="135.7" cy="969.4" r="5.2" fill="#e0573f" fill-opacity="0.18"/><circle cx="135.7" cy="969.4" r="3.2" fill="#ffffff" stroke="#e0573f" stroke-width="2"/>
<circle cx="135.7" cy="991.4" r="5.2" fill="#2a809f" fill-opacity="0.18"/><circle cx="135.7" cy="991.4" r="3.2" fill="#ffffff" stroke="#2a809f" stroke-width="2"/>
<circle cx="135.7" cy="1044.4" r="4.6" fill="#f2c84a" fill-opacity="0.35"/><path d="M132.1,1040.8 L139.3,1048.0 M132.1,1048.0 L139.3,1040.8" stroke="#e9b830" stroke-width="2.2"/><circle cx="135.7" cy="1044.4" r="1.5" fill="#1a1a1a"/>
<circle cx="159.2" cy="960.0" r="5.2" fill="#e0573f" fill-opacity="0.18"/><circle cx="159.2" cy="960.0" r="3.2" fill="#ffffff" stroke="#e0573f" stroke-width="2"/>
<circle cx="159.2" cy="1032.0" r="5.2" fill="#2a809f" fill-opacity="0.18"/><circle cx="159.2" cy="1032.0" r="3.2" fill="#ffffff" stroke="#2a809f" stroke-width="2"/>
<circle cx="159.2" cy="1012.4" r="4.6" fill="#f2c84a" fill-opacity="0.35"/><path d="M155.6,1008.8 L162.8,1016.0 M155.6,1016.0 L162.8,1008.8" stroke="#e9b830" stroke-width="2.2"/><circle cx="159.2" cy="1012.4" r="1.5" fill="#1a1a1a"/>
<circle cx="182.6" cy="943.6" r="5.2" fill="#e0573f" fill-opacity="0.18"/><circle cx="182.6" cy="943.6" r="3.2" fill="#ffffff" stroke="#e0573f" stroke-width="2"/>
<circle cx="182.6" cy="988.2" r="5.2" fill="#2a809f" fill-opacity="0.18"/><circle cx="182.6" cy="988.2" r="3.2" fill="#ffffff" stroke="#2a809f" stroke-width="2"/>
<circle cx="182.6" cy="1000.8" r="4.6" fill="#f2c84a" fill-opacity="0.35"/><path d="M179.0,997.2 L186.2,1004.4 M179.0,1004.4 L186.2,997.2" stroke="#e9b830" stroke-width="2.2"/><circle cx="182.6" cy="1000.8" r="1.5" fill="#1a1a1a"/>
<circle cx="206.0" cy="935.0" r="5.2" fill="#e0573f" fill-opacity="0.18"/><circle cx="206.0" cy="935.0" r="3.2" fill="#ffffff" stroke="#e0573f" stroke-width="2"/>
<circle cx="206.0" cy="978.9" r="5.2" fill="#2a809f" fill-opacity="0.18"/><circle cx="206.0" cy="978.9" r="3.2" fill="#ffffff" stroke="#2a809f" stroke-width="2"/>
<circle cx="206.0" cy="966.5" r="4.6" fill="#f2c84a" fill-opacity="0.35"/><path d="M202.4,962.9 L209.6,970.1 M202.4,970.1 L209.6,962.9" stroke="#e9b830" stroke-width="2.2"/><circle cx="206.0" cy="966.5" r="1.5" fill="#1a1a1a"/>
<circle cx="229.5" cy="975.4" r="5.2" fill="#e0573f" fill-opacity="0.18"/><circle cx="229.5" cy="975.4" r="3.2" fill="#ffffff" stroke="#e0573f" stroke-width="2"/>
<circle cx="229.5" cy="947.4" r="5.2" fill="#2a809f" fill-opacity="0.18"/><circle cx="229.5" cy="947.4" r="3.2" fill="#ffffff" stroke="#2a809f" stroke-width="2"/>
<circle cx="229.5" cy="960.2" r="4.6" fill="#f2c84a" fill-opacity="0.35"/><path d="M225.9,956.6 L233.1,963.8 M225.9,963.8 L233.1,956.6" stroke="#e9b830" stroke-width="2.2"/><circle cx="229.5" cy="960.2" r="1.5" fill="#1a1a1a"/>
<circle cx="252.9" cy="988.2" r="5.2" fill="#e0573f" fill-opacity="0.18"/><circle cx="252.9" cy="988.2" r="3.2" fill="#ffffff" stroke="#e0573f" stroke-width="2"/>
<circle cx="252.9" cy="960.2" r="5.2" fill="#2a809f" fill-opacity="0.18"/><circle cx="252.9" cy="960.2" r="3.2" fill="#ffffff" stroke="#2a809f" stroke-width="2"/>
<circle cx="252.9" cy="935.0" r="4.6" fill="#f2c84a" fill-opacity="0.35"/><path d="M249.3,931.4 L256.5,938.6 M249.3,938.6 L256.5,931.4" stroke="#e9b830" stroke-width="2.2"/><circle cx="252.9" cy="935.0" r="1.5" fill="#1a1a1a"/>
<circle cx="276.4" cy="1004.3" r="5.2" fill="#e0573f" fill-opacity="0.18"/><circle cx="276.4" cy="1004.3" r="3.2" fill="#ffffff" stroke="#e0573f" stroke-width="2"/>
<circle cx="276.4" cy="975.4" r="5.2" fill="#2a809f" fill-opacity="0.18"/><circle cx="276.4" cy="975.4" r="3.2" fill="#ffffff" stroke="#2a809f" stroke-width="2"/>
<circle cx="276.4" cy="943.6" r="4.6" fill="#f2c84a" fill-opacity="0.35"/><path d="M272.8,940.0 L280.0,947.2 M272.8,947.2 L280.0,940.0" stroke="#e9b830" stroke-width="2.2"/><circle cx="276.4" cy="943.6" r="1.5" fill="#1a1a1a"/>
<circle cx="299.8" cy="991.0" r="5.2" fill="#e0573f" fill-opacity="0.18"/><circle cx="299.8" cy="991.0" r="3.2" fill="#ffffff" stroke="#e0573f" stroke-width="2"/>
<circle cx="299.8" cy="978.9" r="5.2" fill="#2a809f" fill-opacity="0.18"/><circle cx="299.8" cy="978.9" r="3.2" fill="#ffffff" stroke="#2a809f" stroke-width="2"/>
<circle cx="299.8" cy="937.8" r="4.6" fill="#f2c84a" fill-opacity="0.35"/><path d="M296.2,934.2 L303.4,941.4 M296.2,941.4 L303.4,934.2" stroke="#e9b830" stroke-width="2.2"/><circle cx="299.8" cy="937.8" r="1.5" fill="#1a1a1a"/>
<circle cx="323.2" cy="985.2" r="5.2" fill="#e0573f" fill-opacity="0.18"/><circle cx="323.2" cy="985.2" r="3.2" fill="#ffffff" stroke="#e0573f" stroke-width="2"/>
<circle cx="323.2" cy="969.3" r="5.2" fill="#2a809f" fill-opacity="0.18"/><circle cx="323.2" cy="969.3" r="3.2" fill="#ffffff" stroke="#2a809f" stroke-width="2"/>
<circle cx="323.2" cy="935.0" r="4.6" fill="#f2c84a" fill-opacity="0.35"/><path d="M319.6,931.4 L326.8,938.6 M319.6,938.6 L326.8,931.4" stroke="#e9b830" stroke-width="2.2"/><circle cx="323.2" cy="935.0" r="1.5" fill="#1a1a1a"/>
<circle cx="346.7" cy="966.5" r="5.2" fill="#e0573f" fill-opacity="0.18"/><circle cx="346.7" cy="966.5" r="3.2" fill="#ffffff" stroke="#e0573f" stroke-width="2"/>
<circle cx="346.7" cy="953.7" r="5.2" fill="#2a809f" fill-opacity="0.18"/><circle cx="346.7" cy="953.7" r="3.2" fill="#ffffff" stroke="#2a809f" stroke-width="2"/>
<circle cx="346.7" cy="932.0" r="4.6" fill="#f2c84a" fill-opacity="0.35"/><path d="M343.1,928.4 L350.3,935.6 M343.1,935.6 L350.3,928.4" stroke="#e9b830" stroke-width="2.2"/><circle cx="346.7" cy="932.0" r="1.5" fill="#1a1a1a"/>
<circle cx="370.1" cy="941.3" r="5.2" fill="#e0573f" fill-opacity="0.18"/><circle cx="370.1" cy="941.3" r="3.2" fill="#ffffff" stroke="#e0573f" stroke-width="2"/>
<circle cx="370.1" cy="960.2" r="5.2" fill="#2a809f" fill-opacity="0.18"/><circle cx="370.1" cy="960.2" r="3.2" fill="#ffffff" stroke="#2a809f" stroke-width="2"/>
<circle cx="370.1" cy="1034.9" r="4.6" fill="#f2c84a" fill-opacity="0.35"/><path d="M366.5,1031.3 L373.7,1038.5 M366.5,1038.5 L373.7,1031.3" stroke="#e9b830" stroke-width="2.2"/><circle cx="370.1" cy="1034.9" r="1.5" fill="#1a1a1a"/>
<circle cx="393.6" cy="928.5" r="5.2" fill="#e0573f" fill-opacity="0.18"/><circle cx="393.6" cy="928.5" r="3.2" fill="#ffffff" stroke="#e0573f" stroke-width="2"/>
<circle cx="393.6" cy="972.8" r="5.2" fill="#2a809f" fill-opacity="0.18"/><circle cx="393.6" cy="972.8" r="3.2" fill="#ffffff" stroke="#2a809f" stroke-width="2"/>
<circle cx="393.6" cy="1025.5" r="4.6" fill="#f2c84a" fill-opacity="0.35"/><path d="M390.0,1021.9 L397.2,1029.1 M390.0,1029.1 L397.2,1021.9" stroke="#e9b830" stroke-width="2.2"/><circle cx="393.6" cy="1025.5" r="1.5" fill="#1a1a1a"/>
<circle cx="417.0" cy="922.5" r="5.2" fill="#e0573f" fill-opacity="0.18"/><circle cx="417.0" cy="922.5" r="3.2" fill="#ffffff" stroke="#e0573f" stroke-width="2"/>
<circle cx="417.0" cy="956.7" r="5.2" fill="#2a809f" fill-opacity="0.18"/><circle cx="417.0" cy="956.7" r="3.2" fill="#ffffff" stroke="#2a809f" stroke-width="2"/>
<circle cx="417.0" cy="1014.8" r="4.6" fill="#f2c84a" fill-opacity="0.35"/><path d="M413.4,1011.2 L420.6,1018.4 M413.4,1018.4 L420.6,1011.2" stroke="#e9b830" stroke-width="2.2"/><circle cx="417.0" cy="1014.8" r="1.5" fill="#1a1a1a"/>
<circle cx="440.4" cy="910.0" r="5.2" fill="#e0573f" fill-opacity="0.18"/><circle cx="440.4" cy="910.0" r="3.2" fill="#ffffff" stroke="#e0573f" stroke-width="2"/>
<circle cx="440.4" cy="947.9" r="5.2" fill="#2a809f" fill-opacity="0.18"/><circle cx="440.4" cy="947.9" r="3.2" fill="#ffffff" stroke="#2a809f" stroke-width="2"/>
<circle cx="440.4" cy="1002.0" r="4.6" fill="#f2c84a" fill-opacity="0.35"/><path d="M436.8,998.4 L444.0,1005.6 M436.8,1005.6 L444.0,998.4" stroke="#e9b830" stroke-width="2.2"/><circle cx="440.4" cy="1002.0" r="1.5" fill="#1a1a1a"/>
<circle cx="463.9" cy="900.7" r="5.2" fill="#e0573f" fill-opacity="0.18"/><circle cx="463.9" cy="900.7" r="3.2" fill="#ffffff" stroke="#e0573f" stroke-width="2"/>
<circle cx="463.9" cy="944.7" r="5.2" fill="#2a809f" fill-opacity="0.18"/><circle cx="463.9" cy="944.7" r="3.2" fill="#ffffff" stroke="#2a809f" stroke-width="2"/>
<circle cx="463.9" cy="988.1" r="4.6" fill="#f2c84a" fill-opacity="0.35"/><path d="M460.3,984.5 L467.5,991.7 M460.3,991.7 L467.5,984.5" stroke="#e9b830" stroke-width="2.2"/><circle cx="463.9" cy="988.1" r="1.5" fill="#1a1a1a"/>
<circle cx="487.3" cy="913.2" r="5.2" fill="#e0573f" fill-opacity="0.18"/><circle cx="487.3" cy="913.2" r="3.2" fill="#ffffff" stroke="#e0573f" stroke-width="2"/>
<circle cx="487.3" cy="922.5" r="5.2" fill="#2a809f" fill-opacity="0.18"/><circle cx="487.3" cy="922.5" r="3.2" fill="#ffffff" stroke="#2a809f" stroke-width="2"/>
<circle cx="487.3" cy="970.0" r="4.6" fill="#f2c84a" fill-opacity="0.35"/><path d="M483.7,966.4 L490.9,973.6 M483.7,973.6 L490.9,966.4" stroke="#e9b830" stroke-width="2.2"/><circle cx="487.3" cy="970.0" r="1.5" fill="#1a1a1a"/>
<circle cx="510.8" cy="928.7" r="5.2" fill="#e0573f" fill-opacity="0.18"/><circle cx="510.8" cy="928.7" r="3.2" fill="#ffffff" stroke="#e0573f" stroke-width="2"/>
<circle cx="510.8" cy="885.2" r="5.2" fill="#2a809f" fill-opacity="0.18"/><circle cx="510.8" cy="885.2" r="3.2" fill="#ffffff" stroke="#2a809f" stroke-width="2"/>
<circle cx="510.8" cy="947.9" r="4.6" fill="#f2c84a" fill-opacity="0.35"/><path d="M507.2,944.3 L514.4,951.5 M507.2,951.5 L514.4,944.3" stroke="#e9b830" stroke-width="2.2"/><circle cx="510.8" cy="947.9" r="1.5" fill="#1a1a1a"/>
<rect x="55.4" y="1078" width="20" height="8.2" fill="#2f3546"/>
<text x="65.4" y="1083.4" font-size="3.6" fill="#ffffff" font-weight="bold" text-anchor="middle">Legend 01</text>
<rect x="78.8" y="1078" width="20" height="8.2" fill="#2f3546"/>
<text x="88.8" y="1083.4" font-size="3.6" fill="#ffffff" font-weight="bold" text-anchor="middle">Legend 02</text>
<rect x="102.3" y="1078" width="20" height="8.2" fill="#2f3546"/>
<text x="112.3" y="1083.4" font-size="3.6" fill="#ffffff" font-weight="bold" text-anchor="middle">Legend 03</text>
<rect x="125.7" y="1078" width="20" height="8.2" fill="#2f3546"/>
<text x="135.7" y="1083.4" font-size="3.6" fill="#ffffff" font-weight="bold" text-anchor="middle">Legend 04</text>
<rect x="149.2" y="1078" width="20" height="8.2" fill="#2f3546"/>
<text x="159.2" y="1083.4" font-size="3.6" fill="#ffffff" font-weight="bold" text-anchor="middle">Legend 05</text>
<rect x="172.6" y="1078" width="20" height="8.2" fill="#2f3546"/>
<text x="182.6" y="1083.4" font-size="3.6" fill="#ffffff" font-weight="bold" text-anchor="middle">Legend 06</text>
<rect x="196.0" y="1078" width="20" height="8.2" fill="#2f3546"/>
<text x="206.0" y="1083.4" font-size="3.6" fill="#ffffff" font-weight="bold" text-anchor="middle">Legend 07</text>
<rect x="219.5" y="1078" width="20" height="8.2" fill="#2f3546"/>
<text x="229.5" y="1083.4" font-size="3.6" fill="#ffffff" font-weight="bold" text-anchor="middle">Legend 08</text>
<rect x="242.9" y="1078" width="20" height="8.2" fill="#2f3546"/>
<text x="252.9" y="1083.4" font-size="3.6" fill="#ffffff" font-weight="bold" text-anchor="middle">Legend 09</text>
<rect x="266.4" y="1078" width="20" height="8.2" fill="#2f3546"/>
<text x="276.4" y="1083.4" font-size="3.6" fill="#ffffff" font-weight="bold" text-anchor="middle">Legend 10</text>
<rect x="289.8" y="1078" width="20" height="8.2" fill="#2f3546"/>
<text x="299.8" y="1083.4" font-size="3.6" fill="#ffffff" font-weight="bold" text-anchor="middle">Legend 11</text>
<rect x="313.2" y="1078" width="20" height="8.2" fill="#2f3546"/>
<text x="323.2" y="1083.4" font-size="3.6" fill="#ffffff" font-weight="bold" text-anchor="middle">Legend 12</text>
<rect x="336.7" y="1078" width="20" height="8.2" fill="#2f3546"/>
<text x="346.7" y="1083.4" font-size="3.6" fill="#ffffff" font-weight="bold" text-anchor="middle">Legend 13</text>
<rect x="360.1" y="1078" width="20" height="8.2" fill="#2f3546"/>
<text x="370.1" y="1083.4" font-size="3.6" fill="#ffffff" font-weight="bold" text-anchor="middle">Legend 14</text>
<rect x="383.6" y="1078" width="20" height="8.2" fill="#2f3546"/>
<text x="393.6" y="1083.4" font-size="3.6" fill="#ffffff" font-weight="bold" text-anchor="middle">Legend 15</text>
<rect x="407.0" y="1078" width="20" height="8.2" fill="#2f3546"/>
<text x="417.0" y="1083.4" font-size="3.6" fill="#ffffff" font-weight="bold" text-anchor="middle">Legend 16</text>
<rect x="430.4" y="1078" width="20" height="8.2" fill="#2f3546"/>
<text x="440.4" y="1083.4" font-size="3.6" fill="#ffffff" font-weight="bold" text-anchor="middle">Legend 17</text>
<rect x="453.9" y="1078" width="20" height="8.2" fill="#2f3546"/>
<text x="463.9" y="1083.4" font-size="3.6" fill="#ffffff" font-weight="bold" text-anchor="middle">Legend 18</text>
<rect x="477.3" y="1078" width="20" height="8.2" fill="#2f3546"/>
<text x="487.3" y="1083.4" font-size="3.6" fill="#ffffff" font-weight="bold" text-anchor="middle">Legend 19</text>
<rect x="500.8" y="1078" width="20" height="8.2" fill="#2f3546"/>
<text x="510.8" y="1083.4" font-size="3.6" fill="#ffffff" font-weight="bold" text-anchor="middle">Legend 20</text>
<rect x="65" y="1102.6" width="76" height="9.4" fill="#e05242"/>
<text x="103.0" y="1109.6" font-size="6.2" fill="#ffffff" font-weight="bold" text-anchor="middle">SERIE 01 NAME HERE</text>
<rect x="88" y="1118.6" width="31" height="2" fill="#e0573f"/>
<circle cx="103.5" cy="1119.6" r="5.2" fill="#2a809f" fill-opacity="0.18"/><circle cx="103.5" cy="1119.6" r="3.2" fill="#ffffff" stroke="#2a809f" stroke-width="2"/>
<rect x="264" y="1102.6" width="73.5" height="9.4" fill="#2e87a3"/>
<text x="300.8" y="1109.6" font-size="6.2" fill="#ffffff" font-weight="bold" text-anchor="middle">SERIE 02 NAME HERE</text>
<rect x="284" y="1118.6" width="32" height="2" fill="#2a809f"/>
<circle cx="300.0" cy="1119.6" r="5.2" fill="#e0573f" fill-opacity="0.18"/><circle cx="300.0" cy="1119.6" r="3.2" fill="#ffffff" stroke="#e0573f" stroke-width="2"/>
<rect x="459" y="1102.6" width="76" height="9.4" fill="#d92845"/>
<text x="497.0" y="1109.6" font-size="6.2" fill="#ffffff" font-weight="bold" text-anchor="middle">SERIE 03 NAME HERE</text>
<rect x="481" y="1118.6" width="31.5" height="2" fill="#d8203f"/>
<circle cx="496.5" cy="1119.6" r="4.6" fill="#f2c84a" fill-opacity="0.35"/><path d="M492.9,1116.0 L500.1,1123.2 M492.9,1123.2 L500.1,1116.0" stroke="#e9b830" stroke-width="2.2"/><circle cx="496.5" cy="1119.6" r="1.5" fill="#1a1a1a"/>
</svg></div>
<div class="sec" style="top:1145px;height:335px;background:linear-gradient(180deg,#d5d8e3 0px,#dfe2ea 30px,#e9ebf0 65px,#eff0f4 110px,#eff0f4 240px,#e6e8ee 285px,#d6d9e4 335px);">
<svg width="600" height="335" viewBox="0 1145 600 335">
<g transform="translate(198.00,1195.00) scale(0.63,1)"><text x="0" y="0" font-size="24.71" font-weight="bold" fill="#4d5a7d" stroke="#4d5a7d" stroke-width="0.45" textLength="322.2" lengthAdjust="spacing">ANIMATED BARS CHART</text></g>
<g transform="translate(197.50,1205.00) scale(0.86,1)"><text x="0" y="0" font-size="6.98" fill="#7c84a0" textLength="237.8" lengthAdjust="spacing">EXPRESSION DRIVEN AUTOMATED CHART W NUMEROUS OPTIONS</text></g>
<rect x="66.5" y="1409.5" width="460" height="0.9" fill="#d7d8de"/>
<rect x="66.5" y="1401.8" width="460" height="0.7" fill="#e5e6eb"/>
<text x="64.5" y="1411.8" font-size="5" fill="#9a9da8" text-anchor="end">0%</text>
<rect x="66.5" y="1393.9" width="460" height="0.9" fill="#d7d8de"/>
<rect x="66.5" y="1386.1" width="460" height="0.7" fill="#e5e6eb"/>
<text x="64.5" y="1396.1" font-size="5" fill="#9a9da8" text-anchor="end">10%</text>
<rect x="66.5" y="1378.2" width="460" height="0.9" fill="#d7d8de"/>
<rect x="66.5" y="1370.5" width="460" height="0.7" fill="#e5e6eb"/>
<text x="64.5" y="1380.4" font-size="5" fill="#9a9da8" text-anchor="end">20%</text>
<rect x="66.5" y="1362.5" width="460" height="0.9" fill="#d7d8de"/>
<rect x="66.5" y="1354.8" width="460" height="0.7" fill="#e5e6eb"/>
<text x="64.5" y="1364.8" font-size="5" fill="#9a9da8" text-anchor="end">30%</text>
<rect x="66.5" y="1346.8" width="460" height="0.9" fill="#d7d8de"/>
<rect x="66.5" y="1339.1" width="460" height="0.7" fill="#e5e6eb"/>
<text x="64.5" y="1349.1" font-size="5" fill="#9a9da8" text-anchor="end">40%</text>
<rect x="66.5" y="1331.1" width="460" height="0.9" fill="#d7d8de"/>
<rect x="66.5" y="1323.4" width="460" height="0.7" fill="#e5e6eb"/>
<text x="64.5" y="1333.4" font-size="5" fill="#9a9da8" text-anchor="end">50%</text>
<rect x="66.5" y="1315.5" width="460" height="0.9" fill="#d7d8de"/>
<rect x="66.5" y="1307.7" width="460" height="0.7" fill="#e5e6eb"/>
<text x="64.5" y="1317.7" font-size="5" fill="#9a9da8" text-anchor="end">60%</text>
<rect x="66.5" y="1299.8" width="460" height="0.9" fill="#d7d8de"/>
<rect x="66.5" y="1292.1" width="460" height="0.7" fill="#e5e6eb"/>
<text x="64.5" y="1302.0" font-size="5" fill="#9a9da8" text-anchor="end">70%</text>
<rect x="66.5" y="1284.1" width="460" height="0.9" fill="#d7d8de"/>
<rect x="66.5" y="1276.4" width="460" height="0.7" fill="#e5e6eb"/>
<text x="64.5" y="1286.4" font-size="5" fill="#9a9da8" text-anchor="end">80%</text>
<rect x="66.5" y="1268.4" width="460" height="0.9" fill="#d7d8de"/>
<rect x="66.5" y="1260.7" width="460" height="0.7" fill="#e5e6eb"/>
<text x="64.5" y="1270.7" font-size="5" fill="#9a9da8" text-anchor="end">90%</text>
<rect x="66.5" y="1252.8" width="460" height="0.9" fill="#d7d8de"/>
<text x="64.5" y="1255.0" font-size="5" fill="#9a9da8" text-anchor="end">100%</text>
<rect x="92.1" y="1254" width="3.6" height="39.1" fill="#ccced5"/>
<rect x="90.9" y="1293.1" width="6" height="116.9" fill="#d42b2b"/>
<path d="M89.3,1287.5 L98.5,1287.5 L93.9,1294.9 Z" fill="#1e2232"/>
<rect x="78.4" y="1413.3" width="31" height="7.5" fill="#1f2331"/>
<text x="93.9" y="1418.6" font-size="4.6" fill="#ffffff" font-weight="bold" text-anchor="middle">Legend 01</text>
<text x="93.9" y="1428.6" font-size="5.4" fill="#585b66" text-anchor="middle">$ 410.00</text>
<rect x="129.6" y="1254" width="3.6" height="42.0" fill="#ccced5"/>
<rect x="128.4" y="1296.0" width="6" height="114.0" fill="#e05a60"/>
<path d="M126.8,1290.4 L136.0,1290.4 L131.4,1297.8 Z" fill="#1e2232"/>
<rect x="115.9" y="1413.3" width="31" height="7.5" fill="#1f2331"/>
<text x="131.4" y="1418.6" font-size="4.6" fill="#ffffff" font-weight="bold" text-anchor="middle">Legend 02</text>
<text x="131.4" y="1428.6" font-size="5.4" fill="#585b66" text-anchor="middle">$ 400.00</text>
<rect x="167.0" y="1254" width="3.6" height="50.5" fill="#ccced5"/>
<rect x="165.8" y="1304.5" width="6" height="105.5" fill="#e87b80"/>
<path d="M164.2,1298.9 L173.4,1298.9 L168.8,1306.3 Z" fill="#1e2232"/>
<rect x="153.3" y="1413.3" width="31" height="7.5" fill="#1f2331"/>
<text x="168.8" y="1418.6" font-size="4.6" fill="#ffffff" font-weight="bold" text-anchor="middle">Legend 03</text>
<text x="168.8" y="1428.6" font-size="5.4" fill="#585b66" text-anchor="middle">$ 370.00</text>
<rect x="204.5" y="1254" width="3.6" height="64.8" fill="#ccced5"/>
<rect x="203.3" y="1318.8" width="6" height="91.2" fill="#f0a6a6"/>
<path d="M201.7,1313.2 L210.9,1313.2 L206.3,1320.6 Z" fill="#1e2232"/>
<rect x="190.8" y="1413.3" width="31" height="7.5" fill="#1f2331"/>
<text x="206.3" y="1418.6" font-size="4.6" fill="#ffffff" font-weight="bold" text-anchor="middle">Legend 04</text>
<text x="206.3" y="1428.6" font-size="5.4" fill="#585b66" text-anchor="middle">$ 320.00</text>
<rect x="241.9" y="1254" width="3.6" height="70.5" fill="#ccced5"/>
<rect x="240.7" y="1324.5" width="6" height="85.5" fill="#2a7896"/>
<path d="M239.1,1318.9 L248.3,1318.9 L243.7,1326.3 Z" fill="#1e2232"/>
<rect x="228.2" y="1413.3" width="31" height="7.5" fill="#1f2331"/>
<text x="243.7" y="1418.6" font-size="4.6" fill="#ffffff" font-weight="bold" text-anchor="middle">Legend 05</text>
<text x="243.7" y="1428.6" font-size="5.4" fill="#585b66" text-anchor="middle">$ 300.00</text>
<rect x="279.4" y="1254" width="3.6" height="60.5" fill="#ccced5"/>
<rect x="278.2" y="1314.5" width="6" height="95.5" fill="#3a9ab7"/>
<path d="M276.6,1308.9 L285.8,1308.9 L281.2,1316.3 Z" fill="#1e2232"/>
<rect x="265.7" y="1413.3" width="31" height="7.5" fill="#1f2331"/>
<text x="281.2" y="1418.6" font-size="4.6" fill="#ffffff" font-weight="bold" text-anchor="middle">Legend 06</text>
<text x="281.2" y="1428.6" font-size="5.4" fill="#585b66" text-anchor="middle">$ 335.00</text>
<rect x="316.9" y="1254" width="3.6" height="47.7" fill="#ccced5"/>
<rect x="315.7" y="1301.7" width="6" height="108.3" fill="#5fb6c9"/>
<path d="M314.1,1296.1 L323.3,1296.1 L318.7,1303.5 Z" fill="#1e2232"/>
<rect x="303.2" y="1413.3" width="31" height="7.5" fill="#1f2331"/>
<text x="318.7" y="1418.6" font-size="4.6" fill="#ffffff" font-weight="bold" text-anchor="middle">Legend 07</text>
<text x="318.7" y="1428.6" font-size="5.4" fill="#585b66" text-anchor="middle">$ 380.00</text>
<rect x="354.3" y="1254" width="3.6" height="39.1" fill="#ccced5"/>
<rect x="353.1" y="1293.1" width="6" height="116.9" fill="#a0d4df"/>
<path d="M351.5,1287.5 L360.7,1287.5 L356.1,1294.9 Z" fill="#1e2232"/>
<rect x="340.6" y="1413.3" width="31" height="7.5" fill="#1f2331"/>
<text x="356.1" y="1418.6" font-size="4.6" fill="#ffffff" font-weight="bold" text-anchor="middle">Legend 08</text>
<text x="356.1" y="1428.6" font-size="5.4" fill="#585b66" text-anchor="middle">$ 410.00</text>
<rect x="391.8" y="1254" width="3.6" height="34.8" fill="#ccced5"/>
<rect x="390.6" y="1288.8" width="6" height="121.2" fill="#e0692c"/>
<path d="M389.0,1283.2 L398.2,1283.2 L393.6,1290.6 Z" fill="#1e2232"/>
<rect x="378.1" y="1413.3" width="31" height="7.5" fill="#1f2331"/>
<text x="393.6" y="1418.6" font-size="4.6" fill="#ffffff" font-weight="bold" text-anchor="middle">Legend 09</text>
<text x="393.6" y="1428.6" font-size="5.4" fill="#585b66" text-anchor="middle">$ 425.00</text>
<rect x="429.2" y="1254" width="3.6" height="30.6" fill="#ccced5"/>
<rect x="428.0" y="1284.6" width="6" height="125.4" fill="#ea8a58"/>
<path d="M426.4,1279.0 L435.6,1279.0 L431.0,1286.4 Z" fill="#1e2232"/>
<rect x="415.5" y="1413.3" width="31" height="7.5" fill="#1f2331"/>
<text x="431.0" y="1418.6" font-size="4.6" fill="#ffffff" font-weight="bold" text-anchor="middle">Legend 10</text>
<text x="431.0" y="1428.6" font-size="5.4" fill="#585b66" text-anchor="middle">$ 440.00</text>
<rect x="466.7" y="1254" width="3.6" height="22.0" fill="#ccced5"/>
<rect x="465.5" y="1276.0" width="6" height="134.0" fill="#f2b294"/>
<path d="M463.9,1270.4 L473.1,1270.4 L468.5,1277.8 Z" fill="#1e2232"/>
<rect x="453.0" y="1413.3" width="31" height="7.5" fill="#1f2331"/>
<text x="468.5" y="1418.6" font-size="4.6" fill="#ffffff" font-weight="bold" text-anchor="middle">Legend 11</text>
<text x="468.5" y="1428.6" font-size="5.4" fill="#585b66" text-anchor="middle">$ 470.00</text>
<rect x="504.2" y="1254" width="3.6" height="13.5" fill="#ccced5"/>
<rect x="503.0" y="1267.5" width="6" height="142.5" fill="#f8d5c4"/>
<path d="M501.4,1261.9 L510.6,1261.9 L506.0,1269.3 Z" fill="#1e2232"/>
<rect x="490.5" y="1413.3" width="31" height="7.5" fill="#1f2331"/>
<text x="506.0" y="1418.6" font-size="4.6" fill="#ffffff" font-weight="bold" text-anchor="middle">Legend 12</text>
<text x="506.0" y="1428.6" font-size="5.4" fill="#585b66" text-anchor="middle">$ 500.00</text>
</svg></div>
<div class="sec" style="top:1480px;height:342px;background:linear-gradient(180deg,#d4d7e3 0px,#dee1e9 30px,#eaecf1 70px,#f0f1f5 110px,#f0f1f5 250px,#e6e8ee 290px,#d5d8e4 342px);">
<svg width="600" height="342" viewBox="0 1480 600 342">
<g transform="translate(176.30,1527.50) scale(0.56,1)"><text x="0" y="0" font-size="28.34" font-weight="bold" fill="#3f4453" stroke="#3f4453" stroke-width="0.15" textLength="443.4" lengthAdjust="spacing">GROWTH CHARTS &amp; TIME LINE</text></g>
<g transform="translate(232.00,1536.80) scale(0.86,1)"><text x="0" y="0" font-size="6.40" fill="#4d5261" textLength="158.1" lengthAdjust="spacing">AUTOMATED EXPRESSION DRIVEN CHART</text></g>
<g transform="translate(189.00,1544.20) scale(0.86,1)"><text x="0" y="0" font-size="6.69" fill="#4d5261" textLength="257.7" lengthAdjust="spacing">ONE-CLICK CUSTOMIZATION CONTROLS; IT&#39;S TRULY A BREEZE</text></g>
<rect x="80.0" y="1566.0" width="48" height="48" fill="#e2e5eb" fill-opacity="0.5" transform="rotate(45 104 1590)"/>
<rect x="280.0" y="1566.0" width="48" height="48" fill="#e2e5eb" fill-opacity="0.5" transform="rotate(45 304 1590)"/>
<rect x="480.0" y="1566.0" width="48" height="48" fill="#e2e5eb" fill-opacity="0.5" transform="rotate(45 504 1590)"/>
<rect x="172.0" y="1748.0" width="48" height="48" fill="#e2e5eb" fill-opacity="0.5" transform="rotate(45 196 1772)"/>
<rect x="372.0" y="1748.0" width="48" height="48" fill="#e2e5eb" fill-opacity="0.5" transform="rotate(45 396 1772)"/>
<circle cx="81.2" cy="1681.7" r="42.3" fill="#d9e7ef" stroke="#c8cad2" stroke-width="6.4"/>
<path d="M81.20,1640.70 A41,41 0 0 1 118.30,1699.16" fill="none" stroke="#1f9dcd" stroke-width="11"/>
<text x="81.2" y="1664.3" font-size="15.5" fill="#3a3f4d" font-weight="bold" text-anchor="middle" textLength="22.0" lengthAdjust="spacingAndGlyphs" stroke="#d9e7ef" stroke-width="0.15">2012</text>
<text x="81.2" y="1692.2" font-size="26.6" fill="#2f3543" font-weight="bold" text-anchor="middle" textLength="35.0" lengthAdjust="spacingAndGlyphs" stroke="#d9e7ef" stroke-width="0.2">32%</text>
<path d="M101.2,1587 H95.2 V1630" fill="none" stroke="#9aa0ad" stroke-width="0.7"/>
<circle cx="95.2" cy="1630" r="3" fill="#1d9ccf"/>
<rect x="101.2" y="1582.7" width="71" height="8.6" fill="#1d9ccf"/>
<text x="103.2" y="1589.1" font-size="5.6" fill="#ffffff" font-weight="bold" textLength="67.0" lengthAdjust="spacingAndGlyphs">Year 2012  Title Goes Here</text>
<text x="101.2" y="1596.5" font-size="4.3" fill="#989ba8" textLength="71.0" lengthAdjust="spacingAndGlyphs">Lorem  ipsum  dolor  sit  amet,</text>
<text x="101.2" y="1601.1" font-size="4.3" fill="#989ba8" textLength="71.0" lengthAdjust="spacingAndGlyphs">consectetur adipiscing elit. Morbi</text>
<text x="101.2" y="1605.7" font-size="4.3" fill="#989ba8" textLength="71.0" lengthAdjust="spacingAndGlyphs">eget neque quis mauris lobortis</text>
<text x="101.2" y="1610.3" font-size="4.3" fill="#989ba8" textLength="71.0" lengthAdjust="spacingAndGlyphs">aliquet. Quisque quis mauris ac.</text>
<text x="101.2" y="1614.9" font-size="4.3" fill="#989ba8" textLength="71.0" lengthAdjust="spacingAndGlyphs">Phasellus viverra massa et dolor</text>
<text x="101.2" y="1619.5" font-size="4.3" fill="#989ba8">non ornare</text>
<circle cx="181.3" cy="1681.7" r="42.3" fill="#d9e7ef" stroke="#c8cad2" stroke-width="6.4"/>
<path d="M181.30,1640.70 A41,41 0 0 1 196.39,1719.82" fill="none" stroke="#4ecaf1" stroke-width="11"/>
<text x="181.3" y="1664.3" font-size="15.5" fill="#3a3f4d" font-weight="bold" text-anchor="middle" textLength="22.0" lengthAdjust="spacingAndGlyphs" stroke="#d9e7ef" stroke-width="0.15">2013</text>
<text x="181.3" y="1692.2" font-size="26.6" fill="#2f3543" font-weight="bold" text-anchor="middle" textLength="35.0" lengthAdjust="spacingAndGlyphs" stroke="#d9e7ef" stroke-width="0.2">44%</text>
<path d="M193.5,1736 V1750 H172.3" fill="none" stroke="#9aa0ad" stroke-width="0.7"/>
<circle cx="193.5" cy="1736" r="3" fill="#45c4ef"/>
<rect x="101.3" y="1746.3" width="71" height="8.6" fill="#45c4ef"/>
<text x="103.3" y="1752.7" font-size="5.6" fill="#ffffff" font-weight="bold" textLength="67.0" lengthAdjust="spacingAndGlyphs">Year 2013 Title Goes Here</text>
<text x="101.3" y="1760.0" font-size="4.3" fill="#989ba8" textLength="71.0" lengthAdjust="spacingAndGlyphs">Lorem  ipsum  dolor  sit  amet,</text>
<text x="101.3" y="1764.6" font-size="4.3" fill="#989ba8" textLength="71.0" lengthAdjust="spacingAndGlyphs">consectetur adipiscing elit. Morbi</text>
<text x="101.3" y="1769.2" font-size="4.3" fill="#989ba8" textLength="71.0" lengthAdjust="spacingAndGlyphs">eget neque quis mauris lobortis</text>
<text x="101.3" y="1773.8" font-size="4.3" fill="#989ba8" textLength="71.0" lengthAdjust="spacingAndGlyphs">aliquet. Quisque quis mauris ac.</text>
<text x="101.3" y="1778.4" font-size="4.3" fill="#989ba8" textLength="71.0" lengthAdjust="spacingAndGlyphs">Phasellus viverra massa et dolor</text>
<text x="101.3" y="1783.0" font-size="4.3" fill="#989ba8">non ornare</text>
<circle cx="281.3" cy="1681.7" r="42.3" fill="#d9e7ef" stroke="#c8cad2" stroke-width="6.4"/>
<path d="M281.30,1640.70 A41,41 0 1 1 266.21,1719.82" fill="none" stroke="#5ab0f2" stroke-width="11"/>
<text x="281.3" y="1664.3" font-size="15.5" fill="#3a3f4d" font-weight="bold" text-anchor="middle" textLength="22.0" lengthAdjust="spacingAndGlyphs" stroke="#d9e7ef" stroke-width="0.15">2014</text>
<text x="281.3" y="1692.2" font-size="26.6" fill="#2f3543" font-weight="bold" text-anchor="middle" textLength="35.0" lengthAdjust="spacingAndGlyphs" stroke="#d9e7ef" stroke-width="0.2">56%</text>
<path d="M301.3,1587 H295.3 V1630" fill="none" stroke="#9aa0ad" stroke-width="0.7"/>
<circle cx="295.3" cy="1630" r="3" fill="#4aa6ee"/>
<rect x="301.3" y="1582.7" width="71" height="8.6" fill="#4aa6ee"/>
<text x="303.3" y="1589.1" font-size="5.6" fill="#ffffff" font-weight="bold" textLength="67.0" lengthAdjust="spacingAndGlyphs">Year 2012 : Title Goes Here</text>
<text x="301.3" y="1596.5" font-size="4.3" fill="#989ba8" textLength="71.0" lengthAdjust="spacingAndGlyphs">Lorem  ipsum  dolor  sit  amet,</text>
<text x="301.3" y="1601.1" font-size="4.3" fill="#989ba8" textLength="71.0" lengthAdjust="spacingAndGlyphs">consectetur adipiscing elit. Morbi</text>
<text x="301.3" y="1605.7" font-size="4.3" fill="#989ba8" textLength="71.0" lengthAdjust="spacingAndGlyphs">eget neque quis mauris lobortis</text>
<text x="301.3" y="1610.3" font-size="4.3" fill="#989ba8" textLength="71.0" lengthAdjust="spacingAndGlyphs">aliquet. Quisque quis mauris ac.</text>
<text x="301.3" y="1614.9" font-size="4.3" fill="#989ba8" textLength="71.0" lengthAdjust="spacingAndGlyphs">Phasellus viverra massa et dolor</text>
<text x="301.3" y="1619.5" font-size="4.3" fill="#989ba8">non ornare</text>
<circle cx="381.3" cy="1681.7" r="42.3" fill="#d9e7ef" stroke="#c8cad2" stroke-width="6.4"/>
<path d="M381.30,1640.70 A41,41 0 1 1 344.20,1699.16" fill="none" stroke="#1e8ae7" stroke-width="11"/>
<text x="381.3" y="1664.3" font-size="15.5" fill="#3a3f4d" font-weight="bold" text-anchor="middle" textLength="22.0" lengthAdjust="spacingAndGlyphs" stroke="#d9e7ef" stroke-width="0.15">2015</text>
<text x="381.3" y="1692.2" font-size="26.6" fill="#2f3543" font-weight="bold" text-anchor="middle" textLength="35.0" lengthAdjust="spacingAndGlyphs" stroke="#d9e7ef" stroke-width="0.2">68%</text>
<path d="M393.5,1736 V1750 H372.3" fill="none" stroke="#9aa0ad" stroke-width="0.7"/>
<circle cx="393.5" cy="1736" r="3" fill="#1a86e0"/>
<rect x="301.3" y="1746.3" width="71" height="8.6" fill="#1a86e0"/>
<text x="303.3" y="1752.7" font-size="5.6" fill="#ffffff" font-weight="bold" textLength="67.0" lengthAdjust="spacingAndGlyphs">Year 2015 Title Goes Here</text>
<text x="301.3" y="1760.0" font-size="4.3" fill="#989ba8" textLength="71.0" lengthAdjust="spacingAndGlyphs">Lorem  ipsum  dolor  sit  amet,</text>
<text x="301.3" y="1764.6" font-size="4.3" fill="#989ba8" textLength="71.0" lengthAdjust="spacingAndGlyphs">consectetur adipiscing elit. Morbi</text>
<text x="301.3" y="1769.2" font-size="4.3" fill="#989ba8" textLength="71.0" lengthAdjust="spacingAndGlyphs">eget neque quis mauris lobortis</text>
<text x="301.3" y="1773.8" font-size="4.3" fill="#989ba8" textLength="71.0" lengthAdjust="spacingAndGlyphs">aliquet. Quisque quis mauris ac.</text>
<text x="301.3" y="1778.4" font-size="4.3" fill="#989ba8" textLength="71.0" lengthAdjust="spacingAndGlyphs">Phasellus viverra massa et dolor</text>
<text x="301.3" y="1783.0" font-size="4.3" fill="#989ba8">non ornare</text>
<circle cx="481.7" cy="1681.7" r="42.3" fill="#d9e7ef" stroke="#c8cad2" stroke-width="6.4"/>
<path d="M481.70,1640.70 A41,41 0 1 1 447.08,1659.73" fill="none" stroke="#1765cf" stroke-width="11"/>
<text x="481.7" y="1664.3" font-size="15.5" fill="#3a3f4d" font-weight="bold" text-anchor="middle" textLength="22.0" lengthAdjust="spacingAndGlyphs" stroke="#d9e7ef" stroke-width="0.15">2016</text>
<text x="481.7" y="1692.2" font-size="26.6" fill="#2f3543" font-weight="bold" text-anchor="middle" textLength="35.0" lengthAdjust="spacingAndGlyphs" stroke="#d9e7ef" stroke-width="0.2">84%</text>
<path d="M501.7,1587 H495.7 V1630" fill="none" stroke="#9aa0ad" stroke-width="0.7"/>
<circle cx="495.7" cy="1630" r="3" fill="#1a5fc8"/>
<rect x="501.7" y="1582.7" width="71" height="8.6" fill="#1a5fc8"/>
<text x="503.7" y="1589.1" font-size="5.6" fill="#ffffff" font-weight="bold" textLength="67.0" lengthAdjust="spacingAndGlyphs">Year 2016 Title Goes Here</text>
<text x="501.7" y="1596.5" font-size="4.3" fill="#989ba8" textLength="71.0" lengthAdjust="spacingAndGlyphs">Lorem  ipsum  dolor  sit  amet,</text>
<text x="501.7" y="1601.1" font-size="4.3" fill="#989ba8" textLength="71.0" lengthAdjust="spacingAndGlyphs">consectetur adipiscing elit. Morbi</text>
<text x="501.7" y="1605.7" font-size="4.3" fill="#989ba8" textLength="71.0" lengthAdjust="spacingAndGlyphs">eget neque quis mauris lobortis</text>
<text x="501.7" y="1610.3" font-size="4.3" fill="#989ba8" textLength="71.0" lengthAdjust="spacingAndGlyphs">aliquet. Quisque quis mauris ac.</text>
<text x="501.7" y="1614.9" font-size="4.3" fill="#989ba8" textLength="71.0" lengthAdjust="spacingAndGlyphs">Phasellus viverra massa et dolor</text>
<text x="501.7" y="1619.5" font-size="4.3" fill="#989ba8">non ornare</text>
</svg></div>
<div class="sec" style="top:1822px;height:340px;background:linear-gradient(180deg,#cfd3df 0px,#d9dce6 30px,#e6e8ee 65px,#eff0f4 100px,#f0f1f5 220px,#e3e5ec 270px,#d5d8e3 305px,#cdd0dc 340px);">
<svg width="600" height="340" viewBox="0 1822 600 340">
<defs>
<linearGradient id="sg1" x1="0" y1="0" x2="0" y2="1"><stop offset="0" stop-color="#fbbb10"/><stop offset="0.5" stop-color="#f9aa06"/><stop offset="1" stop-color="#f59a00"/></linearGradient>
<linearGradient id="sg2" x1="0" y1="0" x2="0" y2="1"><stop offset="0" stop-color="#f78a1c"/><stop offset="0.5" stop-color="#f47418"/><stop offset="1" stop-color="#ee5f14"/></linearGradient>
<linearGradient id="sg3" x1="0" y1="0" x2="0" y2="1"><stop offset="0" stop-color="#ef4530"/><stop offset="0.5" stop-color="#e8342a"/><stop offset="1" stop-color="#dc2626"/></linearGradient>
<linearGradient id="sg4" x1="0" y1="0" x2="0" y2="1"><stop offset="0" stop-color="#c03660"/><stop offset="0.5" stop-color="#b02e56"/><stop offset="1" stop-color="#9e284e"/></linearGradient>
<linearGradient id="sg5" x1="0" y1="0" x2="0" y2="1"><stop offset="0" stop-color="#9442c4"/><stop offset="0.5" stop-color="#7c38c0"/><stop offset="1" stop-color="#6630b6"/></linearGradient>
<linearGradient id="hb1" x1="0" x2="1"><stop offset="0" stop-color="#f5a11c"/><stop offset="1" stop-color="#f7b21c"/></linearGradient>
<linearGradient id="hb2" x1="0" x2="1"><stop offset="0" stop-color="#e84a1a"/><stop offset="1" stop-color="#f2902c"/></linearGradient>
<linearGradient id="hb3" x1="0" x2="1"><stop offset="0" stop-color="#d41f1f"/><stop offset="1" stop-color="#e83a30"/></linearGradient>
<linearGradient id="hb4" x1="0" x2="1"><stop offset="0" stop-color="#761232"/><stop offset="1" stop-color="#cf3472"/></linearGradient>
<linearGradient id="hb5" x1="0" x2="1"><stop offset="0" stop-color="#2a167a"/><stop offset="1" stop-color="#b558d4"/></linearGradient>
</defs>
<g transform="translate(183.00,1867.00) scale(0.56,1)"><text x="0" y="0" font-size="29.07" font-weight="bold" fill="#3f4453" stroke="#3f4453" stroke-width="0.15" textLength="417.9" lengthAdjust="spacing">GROWTH CHART &amp; TIME LINE</text></g>
<g transform="translate(232.00,1875.40) scale(0.86,1)"><text x="0" y="0" font-size="6.40" fill="#4d5261" textLength="159.3" lengthAdjust="spacing">AUTOMATED EXPRESSION DRIVEN CHART</text></g>
<g transform="translate(189.50,1881.80) scale(0.86,1)"><text x="0" y="0" font-size="6.54" fill="#4d5261" textLength="257.0" lengthAdjust="spacing">ONE-CLICK CUSTOMIZATION CONTROLS; IT&#39;S TRULY A BREEZE</text></g>
<rect x="119.0" y="1891.0" width="50" height="50" fill="#dfe2e8" fill-opacity="0.45" transform="rotate(45 144 1916)"/>
<rect x="272.0" y="1889.0" width="50" height="50" fill="#dfe2e8" fill-opacity="0.45" transform="rotate(45 297 1914)"/>
<rect x="428.0" y="1895.0" width="50" height="50" fill="#dfe2e8" fill-opacity="0.45" transform="rotate(45 453 1920)"/>
<text x="105.0" y="1916.6" font-size="5.6" fill="#34508e" font-weight="bold" textLength="71.0" lengthAdjust="spacingAndGlyphs">First Year Title Goes Here</text>
<rect x="105" y="1918.5" width="71" height="1.3" fill="#f5a623"/>
<text x="105.0" y="1925.5" font-size="4.2" fill="#9a9daa" textLength="71.0" lengthAdjust="spacingAndGlyphs">Lorem  ipsum  dolor  sit  amet,</text>
<text x="105.0" y="1929.9" font-size="4.2" fill="#9a9daa" textLength="71.0" lengthAdjust="spacingAndGlyphs">consectetur adipiscing elit. Morbi</text>
<text x="105.0" y="1934.3" font-size="4.2" fill="#9a9daa" textLength="71.0" lengthAdjust="spacingAndGlyphs">eget neque quis mauris lobortis</text>
<text x="105.0" y="1938.7" font-size="4.2" fill="#9a9daa" textLength="71.0" lengthAdjust="spacingAndGlyphs">aliquet. Quisque quis mauris ac.</text>
<text x="105.0" y="1943.1" font-size="4.2" fill="#9a9daa" textLength="71.0" lengthAdjust="spacingAndGlyphs">Phasellus viverra massa et dolor</text>
<text x="105.0" y="1947.5" font-size="4.2" fill="#9a9daa">non ornare</text>
<text x="183.0" y="1916.6" font-size="5.6" fill="#34508e" font-weight="bold" textLength="63.0" lengthAdjust="spacingAndGlyphs">Second Year Title Here</text>
<rect x="183" y="1918.5" width="71" height="1.3" fill="#f47a20"/>
<text x="183.0" y="1925.5" font-size="4.2" fill="#9a9daa" textLength="71.0" lengthAdjust="spacingAndGlyphs">Lorem  ipsum  dolor  sit  amet,</text>
<text x="183.0" y="1929.9" font-size="4.2" fill="#9a9daa" textLength="71.0" lengthAdjust="spacingAndGlyphs">consectetur adipiscing elit. Morbi</text>
<text x="183.0" y="1934.3" font-size="4.2" fill="#9a9daa" textLength="71.0" lengthAdjust="spacingAndGlyphs">eget neque quis mauris lobortis</text>
<text x="183.0" y="1938.7" font-size="4.2" fill="#9a9daa" textLength="71.0" lengthAdjust="spacingAndGlyphs">aliquet. Quisque quis mauris ac.</text>
<text x="183.0" y="1943.1" font-size="4.2" fill="#9a9daa" textLength="71.0" lengthAdjust="spacingAndGlyphs">Phasellus viverra massa et dolor</text>
<text x="183.0" y="1947.5" font-size="4.2" fill="#9a9daa">non ornare</text>
<text x="262.0" y="1916.6" font-size="5.6" fill="#34508e" font-weight="bold" textLength="71.0" lengthAdjust="spacingAndGlyphs">Third Year Title Goes Here</text>
<rect x="262" y="1918.5" width="71" height="1.3" fill="#e03a30"/>
<text x="262.0" y="1925.5" font-size="4.2" fill="#9a9daa" textLength="71.0" lengthAdjust="spacingAndGlyphs">Lorem  ipsum  dolor  sit  amet,</text>
<text x="262.0" y="1929.9" font-size="4.2" fill="#9a9daa" textLength="71.0" lengthAdjust="spacingAndGlyphs">consectetur adipiscing elit. Morbi</text>
<text x="262.0" y="1934.3" font-size="4.2" fill="#9a9daa" textLength="71.0" lengthAdjust="spacingAndGlyphs">eget neque quis mauris lobortis</text>
<text x="262.0" y="1938.7" font-size="4.2" fill="#9a9daa" textLength="71.0" lengthAdjust="spacingAndGlyphs">aliquet. Quisque quis mauris ac.</text>
<text x="262.0" y="1943.1" font-size="4.2" fill="#9a9daa" textLength="71.0" lengthAdjust="spacingAndGlyphs">Phasellus viverra massa et dolor</text>
<text x="262.0" y="1947.5" font-size="4.2" fill="#9a9daa">non ornare</text>
<text x="340.0" y="1916.6" font-size="5.6" fill="#34508e" font-weight="bold" textLength="71.0" lengthAdjust="spacingAndGlyphs">Fourth Year Title Goes Here</text>
<rect x="340" y="1918.5" width="71" height="1.3" fill="#c0305a"/>
<text x="340.0" y="1925.5" font-size="4.2" fill="#9a9daa" textLength="71.0" lengthAdjust="spacingAndGlyphs">Lorem  ipsum  dolor  sit  amet,</text>
<text x="340.0" y="1929.9" font-size="4.2" fill="#9a9daa" textLength="71.0" lengthAdjust="spacingAndGlyphs">consectetur adipiscing elit. Morbi</text>
<text x="340.0" y="1934.3" font-size="4.2" fill="#9a9daa" textLength="71.0" lengthAdjust="spacingAndGlyphs">eget neque quis mauris lobortis</text>
<text x="340.0" y="1938.7" font-size="4.2" fill="#9a9daa" textLength="71.0" lengthAdjust="spacingAndGlyphs">aliquet. Quisque quis mauris ac.</text>
<text x="340.0" y="1943.1" font-size="4.2" fill="#9a9daa" textLength="71.0" lengthAdjust="spacingAndGlyphs">Phasellus viverra massa et dolor</text>
<text x="340.0" y="1947.5" font-size="4.2" fill="#9a9daa">non ornare</text>
<text x="418.3" y="1916.6" font-size="5.6" fill="#34508e" font-weight="bold" textLength="71.0" lengthAdjust="spacingAndGlyphs">Fifth Year Title Goes Here</text>
<rect x="418.3" y="1918.5" width="71" height="1.3" fill="#7b3ab8"/>
<text x="418.3" y="1925.5" font-size="4.2" fill="#9a9daa" textLength="71.0" lengthAdjust="spacingAndGlyphs">Lorem  ipsum  dolor  sit  amet,</text>
<text x="418.3" y="1929.9" font-size="4.2" fill="#9a9daa" textLength="71.0" lengthAdjust="spacingAndGlyphs">consectetur adipiscing elit. Morbi</text>
<text x="418.3" y="1934.3" font-size="4.2" fill="#9a9daa" textLength="71.0" lengthAdjust="spacingAndGlyphs">eget neque quis mauris lobortis</text>
<text x="418.3" y="1938.7" font-size="4.2" fill="#9a9daa" textLength="71.0" lengthAdjust="spacingAndGlyphs">aliquet. Quisque quis mauris ac.</text>
<text x="418.3" y="1943.1" font-size="4.2" fill="#9a9daa" textLength="71.0" lengthAdjust="spacingAndGlyphs">Phasellus viverra massa et dolor</text>
<text x="418.3" y="1947.5" font-size="4.2" fill="#9a9daa">non ornare</text>
<path d="M96.5,1961 L176.7,1961 L187.7,1979.75 L176.7,1998.5 L96.5,1998.5 L105.0,1979.75 Z" fill="url(#sg1)"/>
<path d="M176.7,1961 L255.2,1961 L266.2,1979.75 L255.2,1998.5 L176.7,1998.5 L187.7,1979.75 Z" fill="url(#sg2)"/>
<path d="M255.2,1961 L333.7,1961 L344.7,1979.75 L333.7,1998.5 L255.2,1998.5 L266.2,1979.75 Z" fill="url(#sg3)"/>
<path d="M333.7,1961 L412.2,1961 L423.2,1979.75 L412.2,1998.5 L333.7,1998.5 L344.7,1979.75 Z" fill="url(#sg4)"/>
<path d="M412.2,1961 L490.0,1961 L504.0,1979.75 L490.0,1998.5 L412.2,1998.5 L423.2,1979.75 Z" fill="url(#sg5)"/>
<g transform="translate(143.00,1987.50) scale(0.7,1)"><text x="0" y="0" font-size="20.78" font-weight="bold" fill="#ffffff" text-anchor="middle" textLength="47.1" lengthAdjust="spacing">2012</text></g>
<g transform="translate(224.00,1987.50) scale(0.7,1)"><text x="0" y="0" font-size="20.78" font-weight="bold" fill="#ffffff" text-anchor="middle" textLength="47.1" lengthAdjust="spacing">2013</text></g>
<g transform="translate(302.00,1987.50) scale(0.7,1)"><text x="0" y="0" font-size="20.78" font-weight="bold" fill="#ffffff" text-anchor="middle" textLength="47.1" lengthAdjust="spacing">2014</text></g>
<g transform="translate(380.00,1987.50) scale(0.7,1)"><text x="0" y="0" font-size="20.78" font-weight="bold" fill="#ffffff" text-anchor="middle" textLength="47.1" lengthAdjust="spacing">2015</text></g>
<g transform="translate(458.00,1987.50) scale(0.7,1)"><text x="0" y="0" font-size="20.78" font-weight="bold" fill="#ffffff" text-anchor="middle" textLength="47.1" lengthAdjust="spacing">2016</text></g>
<rect x="140.4" y="2031" width="311" height="86" fill="#f1f2f5" fill-opacity="0.5"/>
<rect x="140.4" y="2031" width="0.6" height="86" fill="#cfd1d8"/>
<rect x="146.6" y="2031" width="0.6" height="86" fill="#e0e2e7"/>
<rect x="152.8" y="2031" width="0.6" height="86" fill="#e0e2e7"/>
<rect x="159.0" y="2031" width="0.6" height="86" fill="#e0e2e7"/>
<rect x="165.3" y="2031" width="0.6" height="86" fill="#e0e2e7"/>
<rect x="171.5" y="2031" width="0.6" height="86" fill="#cfd1d8"/>
<rect x="177.7" y="2031" width="0.6" height="86" fill="#e0e2e7"/>
<rect x="183.9" y="2031" width="0.6" height="86" fill="#e0e2e7"/>
<rect x="190.1" y="2031" width="0.6" height="86" fill="#e0e2e7"/>
<rect x="196.3" y="2031" width="0.6" height="86" fill="#e0e2e7"/>
<rect x="202.6" y="2031" width="0.6" height="86" fill="#cfd1d8"/>
<rect x="208.8" y="2031" width="0.6" height="86" fill="#e0e2e7"/>
<rect x="215.0" y="2031" width="0.6" height="86" fill="#e0e2e7"/>
<rect x="221.2" y="2031" width="0.6" height="86" fill="#e0e2e7"/>
<rect x="227.4" y="2031" width="0.6" height="86" fill="#e0e2e7"/>
<rect x="233.6" y="2031" width="0.6" height="86" fill="#cfd1d8"/>
<rect x="239.9" y="2031" width="0.6" height="86" fill="#e0e2e7"/>
<rect x="246.1" y="2031" width="0.6" height="86" fill="#e0e2e7"/>
<rect x="252.3" y="2031" width="0.6" height="86" fill="#e0e2e7"/>
<rect x="258.5" y="2031" width="0.6" height="86" fill="#e0e2e7"/>
<rect x="264.7" y="2031" width="0.6" height="86" fill="#cfd1d8"/>
<rect x="270.9" y="2031" width="0.6" height="86" fill="#e0e2e7"/>
<rect x="277.2" y="2031" width="0.6" height="86" fill="#e0e2e7"/>
<rect x="283.4" y="2031" width="0.6" height="86" fill="#e0e2e7"/>
<rect x="289.6" y="2031" width="0.6" height="86" fill="#e0e2e7"/>
<rect x="295.8" y="2031" width="0.6" height="86" fill="#cfd1d8"/>
<rect x="302.0" y="2031" width="0.6" height="86" fill="#e0e2e7"/>
<rect x="308.2" y="2031" width="0.6" height="86" fill="#e0e2e7"/>
<rect x="314.4" y="2031" width="0.6" height="86" fill="#e0e2e7"/>
<rect x="320.7" y="2031" width="0.6" height="86" fill="#e0e2e7"/>
<rect x="326.9" y="2031" width="0.6" height="86" fill="#cfd1d8"/>
<rect x="333.1" y="2031" width="0.6" height="86" fill="#e0e2e7"/>
<rect x="339.3" y="2031" width="0.6" height="86" fill="#e0e2e7"/>
<rect x="345.5" y="2031" width="0.6" height="86" fill="#e0e2e7"/>
<rect x="351.7" y="2031" width="0.6" height="86" fill="#e0e2e7"/>
<rect x="358.0" y="2031" width="0.6" height="86" fill="#cfd1d8"/>
<rect x="364.2" y="2031" width="0.6" height="86" fill="#e0e2e7"/>
<rect x="370.4" y="2031" width="0.6" height="86" fill="#e0e2e7"/>
<rect x="376.6" y="2031" width="0.6" height="86" fill="#e0e2e7"/>
<rect x="382.8" y="2031" width="0.6" height="86" fill="#e0e2e7"/>
<rect x="389.0" y="2031" width="0.6" height="86" fill="#cfd1d8"/>
<rect x="395.3" y="2031" width="0.6" height="86" fill="#e0e2e7"/>
<rect x="401.5" y="2031" width="0.6" height="86" fill="#e0e2e7"/>
<rect x="407.7" y="2031" width="0.6" height="86" fill="#e0e2e7"/>
<rect x="413.9" y="2031" width="0.6" height="86" fill="#e0e2e7"/>
<rect x="420.1" y="2031" width="0.6" height="86" fill="#cfd1d8"/>
<rect x="426.3" y="2031" width="0.6" height="86" fill="#e0e2e7"/>
<rect x="432.6" y="2031" width="0.6" height="86" fill="#e0e2e7"/>
<rect x="438.8" y="2031" width="0.6" height="86" fill="#e0e2e7"/>
<rect x="445.0" y="2031" width="0.6" height="86" fill="#e0e2e7"/>
<rect x="451.2" y="2031" width="0.6" height="86" fill="#cfd1d8"/>
<text x="133.3" y="2046.0" font-size="6.6" fill="#555a66" text-anchor="end">Legend Bar 01</text>
<rect x="138.6" y="2039.8" width="1.8" height="8" fill="#3c4150"/>
<rect x="141" y="2042.8" width="310" height="2" fill="#c9cbd2"/>
<rect x="141" y="2041.2" width="155.4" height="5.2" fill="url(#hb1)"/>
<text x="458.3" y="2046.0" font-size="6.6" fill="#7a7e8a">$ 400.00</text>
<text x="495.4" y="2046.0" font-size="6.6" fill="#7a7e8a">50.00%</text>
<text x="133.3" y="2061.9" font-size="6.6" fill="#555a66" text-anchor="end">Legend Bar 02</text>
<rect x="138.6" y="2055.6" width="1.8" height="8" fill="#3c4150"/>
<rect x="141" y="2058.6" width="310" height="2" fill="#c9cbd2"/>
<rect x="141" y="2057.0" width="211.3" height="5.2" fill="url(#hb2)"/>
<text x="458.3" y="2061.9" font-size="6.6" fill="#7a7e8a">$ 540.00</text>
<text x="495.4" y="2061.9" font-size="6.6" fill="#7a7e8a">68.00%</text>
<text x="133.3" y="2077.7" font-size="6.6" fill="#555a66" text-anchor="end">Legend Bar 03</text>
<rect x="138.6" y="2071.3" width="1.8" height="8" fill="#3c4150"/>
<rect x="141" y="2074.3" width="310" height="2" fill="#c9cbd2"/>
<rect x="141" y="2072.8" width="186.5" height="5.2" fill="url(#hb3)"/>
<text x="458.3" y="2077.7" font-size="6.6" fill="#7a7e8a">$ 480.00</text>
<text x="495.4" y="2077.7" font-size="6.6" fill="#7a7e8a">60.00%</text>
<text x="133.3" y="2093.5" font-size="6.6" fill="#555a66" text-anchor="end">Legend Bar 04</text>
<rect x="138.6" y="2087.2" width="1.8" height="8" fill="#3c4150"/>
<rect x="141" y="2090.2" width="310" height="2" fill="#c9cbd2"/>
<rect x="141" y="2088.6" width="242.4" height="5.2" fill="url(#hb4)"/>
<text x="458.3" y="2093.5" font-size="6.6" fill="#7a7e8a">$ 620.00</text>
<text x="495.4" y="2093.5" font-size="6.6" fill="#7a7e8a">78.00%</text>
<text x="133.3" y="2109.2" font-size="6.6" fill="#555a66" text-anchor="end">Legend Bar 05</text>
<rect x="138.6" y="2102.9" width="1.8" height="8" fill="#3c4150"/>
<rect x="141" y="2105.9" width="310" height="2" fill="#c9cbd2"/>
<rect x="141" y="2104.3" width="292.2" height="5.2" fill="url(#hb5)"/>
<text x="458.3" y="2109.2" font-size="6.6" fill="#7a7e8a">$ 750.00</text>
<text x="495.4" y="2109.2" font-size="6.6" fill="#7a7e8a">94.00%</text>
</svg></div>
<div class="sec" style="top:2162px;height:338px;background:linear-gradient(180deg,#ebe8f0 0px,#efecf4 50px,#f3f1f7 130px,#f3f1f7 250px,#f0eef4 300px,#ebe8f0 338px);">
<svg width="600" height="338" viewBox="0 2162 600 338">
<defs>
<radialGradient id="wc" cx="300" cy="1850" r="442" gradientUnits="userSpaceOnUse"><stop offset="0" stop-color="#ffffff"/><stop offset="0.97" stop-color="#fdfcfe"/><stop offset="1" stop-color="#fbfafc"/></radialGradient>
<linearGradient id="ab1" x1="0" x2="1"><stop offset="0" stop-color="#e2351c"/><stop offset="1" stop-color="#ec5a30"/></linearGradient>
<linearGradient id="ab2" x1="0" x2="1"><stop offset="0" stop-color="#e63e1e"/><stop offset="1" stop-color="#f0804c"/></linearGradient>
<linearGradient id="ab3" x1="0" x2="1"><stop offset="0" stop-color="#ee6a40"/><stop offset="1" stop-color="#f4926c"/></linearGradient>
<linearGradient id="ab4" x1="0" x2="1"><stop offset="0" stop-color="#f4a088"/><stop offset="1" stop-color="#f7b6a2"/></linearGradient>
<linearGradient id="ab5" x1="0" x2="1"><stop offset="0" stop-color="#f5bcae"/><stop offset="1" stop-color="#f9d3c8"/></linearGradient>
<linearGradient id="ab6" x1="0" x2="1"><stop offset="0" stop-color="#0e2a80"/><stop offset="1" stop-color="#1a52ba"/></linearGradient>
<linearGradient id="ab7" x1="0" x2="1"><stop offset="0" stop-color="#1a4fd0"/><stop offset="1" stop-color="#2478e6"/></linearGradient>
<linearGradient id="ab8" x1="0" x2="1"><stop offset="0" stop-color="#2a72e4"/><stop offset="1" stop-color="#3898ef"/></linearGradient>
<linearGradient id="ab9" x1="0" x2="1"><stop offset="0" stop-color="#3c8ee8"/><stop offset="1" stop-color="#58aaf0"/></linearGradient>
<linearGradient id="ab10" x1="0" x2="1"><stop offset="0" stop-color="#6eb4ef"/><stop offset="1" stop-color="#96c9f3"/></linearGradient>
<linearGradient id="ab11" x1="0" x2="1"><stop offset="0" stop-color="#1e0a58"/><stop offset="1" stop-color="#4a1a96"/></linearGradient>
<linearGradient id="ab12" x1="0" x2="1"><stop offset="0" stop-color="#3c1488"/><stop offset="1" stop-color="#6228b0"/></linearGradient>
<linearGradient id="ab13" x1="0" x2="1"><stop offset="0" stop-color="#6a22b8"/><stop offset="1" stop-color="#9244cc"/></linearGradient>
<linearGradient id="ab14" x1="0" x2="1"><stop offset="0" stop-color="#9a4cd2"/><stop offset="1" stop-color="#bc78e0"/></linearGradient>
<linearGradient id="ab15" x1="0" x2="1"><stop offset="0" stop-color="#c596e6"/><stop offset="1" stop-color="#dcbaf0"/></linearGradient>
</defs>
<filter id="cblur" x="-20%" y="-20%" width="140%" height="140%"><feGaussianBlur stdDeviation="6"/></filter>
<circle cx="300" cy="1850" r="445" fill="#e4e0ea" filter="url(#cblur)" opacity="0.6"/>
<circle cx="300" cy="1850" r="442" fill="url(#wc)"/>
<rect x="0" y="2162" width="600" height="3" fill="#f6f5fa"/>
<g transform="translate(195.00,2203.80) scale(0.575,1)"><text x="0" y="0" font-size="27.33" font-weight="bold" fill="#3a4058" stroke="#3a4058" stroke-width="0.45" textLength="363.5" lengthAdjust="spacing">ANIMATED LINES CHARTS</text></g>
<g transform="translate(195.00,2214.00) scale(0.86,1)"><text x="0" y="0" font-size="6.69" fill="#666c84" textLength="244.2" lengthAdjust="spacing">EXPRESSION DRIVE AUTOMATED CHART W NUMEROUS OPTIONS</text></g>
<filter id="pblur" x="-10%" y="-10%" width="120%" height="120%"><feGaussianBlur stdDeviation="5"/></filter>
<rect x="84" y="2222" width="446" height="248" fill="#faf9fc" fill-opacity="0.85" filter="url(#pblur)"/>
<rect x="143.7" y="2228" width="313" height="236" fill="#fdfdfe" fill-opacity="0.7"/>
<rect x="143.7" y="2228" width="0.6" height="236" fill="#d6d7de"/>
<rect x="150.0" y="2228" width="0.6" height="236" fill="#e9e9ee"/>
<rect x="156.2" y="2228" width="0.6" height="236" fill="#e9e9ee"/>
<rect x="162.5" y="2228" width="0.6" height="236" fill="#e9e9ee"/>
<rect x="168.7" y="2228" width="0.6" height="236" fill="#e9e9ee"/>
<rect x="175.0" y="2228" width="0.6" height="236" fill="#d6d7de"/>
<rect x="181.3" y="2228" width="0.6" height="236" fill="#e9e9ee"/>
<rect x="187.5" y="2228" width="0.6" height="236" fill="#e9e9ee"/>
<rect x="193.8" y="2228" width="0.6" height="236" fill="#e9e9ee"/>
<rect x="200.0" y="2228" width="0.6" height="236" fill="#e9e9ee"/>
<rect x="206.3" y="2228" width="0.6" height="236" fill="#d6d7de"/>
<rect x="212.6" y="2228" width="0.6" height="236" fill="#e9e9ee"/>
<rect x="218.8" y="2228" width="0.6" height="236" fill="#e9e9ee"/>
<rect x="225.1" y="2228" width="0.6" height="236" fill="#e9e9ee"/>
<rect x="231.3" y="2228" width="0.6" height="236" fill="#e9e9ee"/>
<rect x="237.6" y="2228" width="0.6" height="236" fill="#d6d7de"/>
<rect x="243.9" y="2228" width="0.6" height="236" fill="#e9e9ee"/>
<rect x="250.1" y="2228" width="0.6" height="236" fill="#e9e9ee"/>
<rect x="256.4" y="2228" width="0.6" height="236" fill="#e9e9ee"/>
<rect x="262.6" y="2228" width="0.6" height="236" fill="#e9e9ee"/>
<rect x="268.9" y="2228" width="0.6" height="236" fill="#d6d7de"/>
<rect x="275.2" y="2228" width="0.6" height="236" fill="#e9e9ee"/>
<rect x="281.4" y="2228" width="0.6" height="236" fill="#e9e9ee"/>
<rect x="287.7" y="2228" width="0.6" height="236" fill="#e9e9ee"/>
<rect x="293.9" y="2228" width="0.6" height="236" fill="#e9e9ee"/>
<rect x="300.2" y="2228" width="0.6" height="236" fill="#d6d7de"/>
<rect x="306.5" y="2228" width="0.6" height="236" fill="#e9e9ee"/>
<rect x="312.7" y="2228" width="0.6" height="236" fill="#e9e9ee"/>
<rect x="319.0" y="2228" width="0.6" height="236" fill="#e9e9ee"/>
<rect x="325.2" y="2228" width="0.6" height="236" fill="#e9e9ee"/>
<rect x="331.5" y="2228" width="0.6" height="236" fill="#d6d7de"/>
<rect x="337.8" y="2228" width="0.6" height="236" fill="#e9e9ee"/>
<rect x="344.0" y="2228" width="0.6" height="236" fill="#e9e9ee"/>
<rect x="350.3" y="2228" width="0.6" height="236" fill="#e9e9ee"/>
<rect x="356.5" y="2228" width="0.6" height="236" fill="#e9e9ee"/>
<rect x="362.8" y="2228" width="0.6" height="236" fill="#d6d7de"/>
<rect x="369.1" y="2228" width="0.6" height="236" fill="#e9e9ee"/>
<rect x="375.3" y="2228" width="0.6" height="236" fill="#e9e9ee"/>
<rect x="381.6" y="2228" width="0.6" height="236" fill="#e9e9ee"/>
<rect x="387.8" y="2228" width="0.6" height="236" fill="#e9e9ee"/>
<rect x="394.1" y="2228" width="0.6" height="236" fill="#d6d7de"/>
<rect x="400.4" y="2228" width="0.6" height="236" fill="#e9e9ee"/>
<rect x="406.6" y="2228" width="0.6" height="236" fill="#e9e9ee"/>
<rect x="412.9" y="2228" width="0.6" height="236" fill="#e9e9ee"/>
<rect x="419.1" y="2228" width="0.6" height="236" fill="#e9e9ee"/>
<rect x="425.4" y="2228" width="0.6" height="236" fill="#d6d7de"/>
<rect x="431.7" y="2228" width="0.6" height="236" fill="#e9e9ee"/>
<rect x="437.9" y="2228" width="0.6" height="236" fill="#e9e9ee"/>
<rect x="444.2" y="2228" width="0.6" height="236" fill="#e9e9ee"/>
<rect x="450.4" y="2228" width="0.6" height="236" fill="#e9e9ee"/>
<rect x="456.7" y="2228" width="0.6" height="236" fill="#d6d7de"/>
<text x="136.3" y="2239.1" font-size="6.4" fill="#676b78" text-anchor="end">Legend Bar 01</text>
<rect x="138.2" y="2232.8" width="1.8" height="8" fill="#55596a"/>
<rect x="143.7" y="2235.8" width="313" height="2" fill="#cdced6"/>
<rect x="143.7" y="2234.2" width="294.2" height="5.2" fill="url(#ab1)"/>
<text x="460.8" y="2239.1" font-size="6.6" fill="#7a7e8a">$ 750.00</text>
<text x="497.2" y="2239.1" font-size="6.6" fill="#7a7e8a">94.00%</text>
<text x="136.3" y="2254.7" font-size="6.4" fill="#676b78" text-anchor="end">Legend Bar 02</text>
<rect x="138.2" y="2248.4" width="1.8" height="8" fill="#55596a"/>
<rect x="143.7" y="2251.4" width="313" height="2" fill="#cdced6"/>
<rect x="143.7" y="2249.8" width="266.1" height="5.2" fill="url(#ab2)"/>
<text x="460.8" y="2254.7" font-size="6.6" fill="#7a7e8a">$ 680.00</text>
<text x="497.2" y="2254.7" font-size="6.6" fill="#7a7e8a">85.00%</text>
<text x="136.3" y="2270.3" font-size="6.4" fill="#676b78" text-anchor="end">Legend Bar 03</text>
<rect x="138.2" y="2264.0" width="1.8" height="8" fill="#55596a"/>
<rect x="143.7" y="2267.0" width="313" height="2" fill="#cdced6"/>
<rect x="143.7" y="2265.4" width="234.8" height="5.2" fill="url(#ab3)"/>
<text x="460.8" y="2270.3" font-size="6.6" fill="#7a7e8a">$ 600.00</text>
<text x="497.2" y="2270.3" font-size="6.6" fill="#7a7e8a">75.00%</text>
<text x="136.3" y="2285.9" font-size="6.4" fill="#676b78" text-anchor="end">Legend Bar 04</text>
<rect x="138.2" y="2279.6" width="1.8" height="8" fill="#55596a"/>
<rect x="143.7" y="2282.6" width="313" height="2" fill="#cdced6"/>
<rect x="143.7" y="2281.0" width="219.1" height="5.2" fill="url(#ab4)"/>
<text x="460.8" y="2285.9" font-size="6.6" fill="#7a7e8a">$ 560.00</text>
<text x="497.2" y="2285.9" font-size="6.6" fill="#7a7e8a">70.00%</text>
<text x="136.3" y="2301.6" font-size="6.4" fill="#676b78" text-anchor="end">Legend Bar 05</text>
<rect x="138.2" y="2295.2" width="1.8" height="8" fill="#55596a"/>
<rect x="143.7" y="2298.2" width="313" height="2" fill="#cdced6"/>
<rect x="143.7" y="2296.7" width="212.8" height="5.2" fill="url(#ab5)"/>
<text x="460.8" y="2301.6" font-size="6.6" fill="#7a7e8a">$ 540.00</text>
<text x="497.2" y="2301.6" font-size="6.6" fill="#7a7e8a">68.00%</text>
<text x="136.3" y="2317.2" font-size="6.4" fill="#676b78" text-anchor="end">Legend Bar 06</text>
<rect x="138.2" y="2310.9" width="1.8" height="8" fill="#55596a"/>
<rect x="143.7" y="2313.9" width="313" height="2" fill="#cdced6"/>
<rect x="143.7" y="2312.3" width="187.8" height="5.2" fill="url(#ab6)"/>
<text x="460.8" y="2317.2" font-size="6.6" fill="#7a7e8a">$ 480.00</text>
<text x="497.2" y="2317.2" font-size="6.6" fill="#7a7e8a">60.00%</text>
<text x="136.3" y="2332.8" font-size="6.4" fill="#676b78" text-anchor="end">Legend Bar 07</text>
<rect x="138.2" y="2326.5" width="1.8" height="8" fill="#55596a"/>
<rect x="143.7" y="2329.5" width="313" height="2" fill="#cdced6"/>
<rect x="143.7" y="2327.9" width="178.4" height="5.2" fill="url(#ab7)"/>
<text x="460.8" y="2332.8" font-size="6.6" fill="#7a7e8a">$ 460.00</text>
<text x="497.2" y="2332.8" font-size="6.6" fill="#7a7e8a">57.00%</text>
<text x="136.3" y="2348.4" font-size="6.4" fill="#676b78" text-anchor="end">Legend Bar 08</text>
<rect x="138.2" y="2342.1" width="1.8" height="8" fill="#55596a"/>
<rect x="143.7" y="2345.1" width="313" height="2" fill="#cdced6"/>
<rect x="143.7" y="2343.5" width="175.3" height="5.2" fill="url(#ab8)"/>
<text x="460.8" y="2348.4" font-size="6.6" fill="#7a7e8a">$ 450.00</text>
<text x="497.2" y="2348.4" font-size="6.6" fill="#7a7e8a">56.00%</text>
<text x="136.3" y="2364.1" font-size="6.4" fill="#676b78" text-anchor="end">Legend Bar 09</text>
<rect x="138.2" y="2357.8" width="1.8" height="8" fill="#55596a"/>
<rect x="143.7" y="2360.8" width="313" height="2" fill="#cdced6"/>
<rect x="143.7" y="2359.2" width="156.5" height="5.2" fill="url(#ab9)"/>
<text x="460.8" y="2364.1" font-size="6.6" fill="#7a7e8a">$ 400.00</text>
<text x="497.2" y="2364.1" font-size="6.6" fill="#7a7e8a">50.00%</text>
<text x="136.3" y="2379.7" font-size="6.4" fill="#676b78" text-anchor="end">Legend Bar 10</text>
<rect x="138.2" y="2373.4" width="1.8" height="8" fill="#55596a"/>
<rect x="143.7" y="2376.4" width="313" height="2" fill="#cdced6"/>
<rect x="143.7" y="2374.8" width="153.4" height="5.2" fill="url(#ab10)"/>
<text x="460.8" y="2379.7" font-size="6.6" fill="#7a7e8a">$ 390.00</text>
<text x="497.2" y="2379.7" font-size="6.6" fill="#7a7e8a">49.00%</text>
<text x="136.3" y="2395.3" font-size="6.4" fill="#676b78" text-anchor="end">Legend Bar 11</text>
<rect x="138.2" y="2389.0" width="1.8" height="8" fill="#55596a"/>
<rect x="143.7" y="2392.0" width="313" height="2" fill="#cdced6"/>
<rect x="143.7" y="2390.4" width="125.2" height="5.2" fill="url(#ab11)"/>
<text x="460.8" y="2395.3" font-size="6.6" fill="#7a7e8a">$ 320.00</text>
<text x="497.2" y="2395.3" font-size="6.6" fill="#7a7e8a">40.00%</text>
<text x="136.3" y="2410.9" font-size="6.4" fill="#676b78" text-anchor="end">Legend Bar 12</text>
<rect x="138.2" y="2404.6" width="1.8" height="8" fill="#55596a"/>
<rect x="143.7" y="2407.6" width="313" height="2" fill="#cdced6"/>
<rect x="143.7" y="2406.0" width="122.1" height="5.2" fill="url(#ab12)"/>
<text x="460.8" y="2410.9" font-size="6.6" fill="#7a7e8a">$ 310.00</text>
<text x="497.2" y="2410.9" font-size="6.6" fill="#7a7e8a">39.00%</text>
<text x="136.3" y="2426.6" font-size="6.4" fill="#676b78" text-anchor="end">Legend Bar 13</text>
<rect x="138.2" y="2420.2" width="1.8" height="8" fill="#55596a"/>
<rect x="143.7" y="2423.2" width="313" height="2" fill="#cdced6"/>
<rect x="143.7" y="2421.7" width="109.5" height="5.2" fill="url(#ab13)"/>
<text x="460.8" y="2426.6" font-size="6.6" fill="#7a7e8a">$ 280.00</text>
<text x="497.2" y="2426.6" font-size="6.6" fill="#7a7e8a">35.00%</text>
<text x="136.3" y="2442.2" font-size="6.4" fill="#676b78" text-anchor="end">Legend Bar 14</text>
<rect x="138.2" y="2435.9" width="1.8" height="8" fill="#55596a"/>
<rect x="143.7" y="2438.9" width="313" height="2" fill="#cdced6"/>
<rect x="143.7" y="2437.3" width="97.0" height="5.2" fill="url(#ab14)"/>
<text x="460.8" y="2442.2" font-size="6.6" fill="#7a7e8a">$ 250.00</text>
<text x="497.2" y="2442.2" font-size="6.6" fill="#7a7e8a">31.00%</text>
<text x="136.3" y="2457.8" font-size="6.4" fill="#676b78" text-anchor="end">Legend Bar 15</text>
<rect x="138.2" y="2451.5" width="1.8" height="8" fill="#55596a"/>
<rect x="143.7" y="2454.5" width="313" height="2" fill="#cdced6"/>
<rect x="143.7" y="2452.9" width="72.0" height="5.2" fill="url(#ab15)"/>
<text x="460.8" y="2457.8" font-size="6.6" fill="#7a7e8a">$ 180.00</text>
<text x="497.2" y="2457.8" font-size="6.6" fill="#7a7e8a">23.00%</text>
</svg></div>
</body></html>
